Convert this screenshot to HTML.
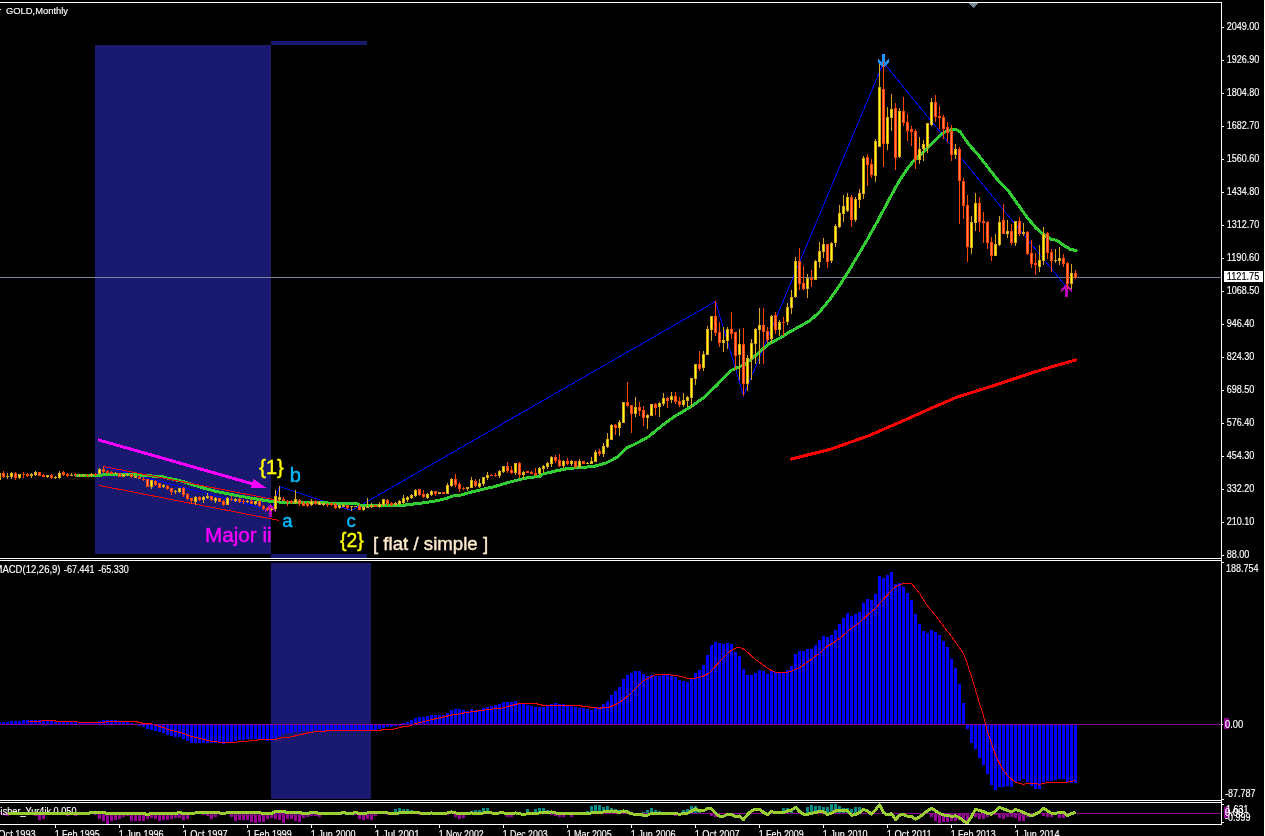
<!DOCTYPE html>
<html><head><meta charset="utf-8"><title>GOLD,Monthly</title>
<style>
html,body{margin:0;padding:0;background:#000;overflow:hidden}
svg{display:block}
svg text{font-family:"Liberation Sans",sans-serif;white-space:pre}
</style></head><body>
<svg width="1265" height="836" viewBox="0 0 1265 836" shape-rendering="crispEdges">
<rect x="0" y="0" width="1265" height="836" fill="#000"/>
<rect x="95" y="45" width="176" height="509" fill="#191970"/>
<rect x="271" y="41" width="96" height="4" fill="#191970"/>
<rect x="271" y="554" width="96" height="4" fill="#191970"/>
<rect x="271" y="563" width="100" height="236" fill="#191970"/>
<rect x="0" y="277" width="1221" height="1" fill="#778899"/>
<g id="main-ind">
<polyline points="103.5,466.5 271.5,510.5 279.5,486.5 351.5,510.5 715.5,301.5 743.5,395.5 883.5,62.5 1067.5,288.5" fill="none" stroke="#0000ff" stroke-width="1" />
<polyline points="76.0,475.5 101.0,475.5 103.0,474.5 138.0,474.5 141.0,475.5 151.0,475.5 153.0,476.5 162.0,476.5 165.0,477.5 182.4,481.3 199.8,487.0 217.2,491.7 234.6,495.2 252.0,498.3 265.0,500.4 273.7,501.9 320.0,502.9 357.0,503.4 359.0,505.0 405.5,505.0 411.0,504.3 423.0,502.9 431.0,501.7 437.9,500.6 446.5,498.3 453.7,495.7 461.6,494.9 469.5,492.5 477.4,490.6 485.3,488.6 493.2,487.0 501.1,484.6 509.1,482.3 517.0,480.3 524.9,478.3 530.6,477.3 539.5,476.6 543.0,474.0 556.0,470.9 568.5,468.4 581.0,467.5 594.0,466.5 606.5,462.8 616.6,457.6 626.7,448.0 631.8,445.6 638.4,442.4 648.1,437.0 654.6,431.7 665.3,423.0 676.1,415.5 682.2,412.0 691.5,406.3 704.0,397.3 716.4,385.6 728.8,372.4 732.0,370.0 744.4,364.6 752.2,358.4 760.0,351.4 769.3,343.6 780.0,338.0 789.7,331.9 809.5,321.0 819.3,312.2 829.2,300.3 839.0,286.5 845.0,276.7 848.9,270.7 858.8,254.0 868.6,237.2 878.5,219.5 889.6,198.5 899.1,181.2 908.7,166.9 913.5,161.1 918.3,156.8 927.8,147.8 937.4,138.2 942.2,133.4 947.0,131.0 951.8,129.6 955.6,129.1 960.3,132.0 968.2,143.7 978.0,154.6 988.0,167.5 997.8,180.0 1007.4,189.7 1016.9,203.0 1026.5,216.5 1036.0,228.0 1043.7,234.7 1051.4,239.4 1057.0,240.4 1064.7,246.0 1070.5,249.4 1076.2,250.5" fill="none" stroke="#32cd32" stroke-width="2.2" shape-rendering="geometricPrecision" stroke-linejoin="round" stroke-linecap="round"/>
<polyline points="76.0,475.5 101.0,475.5 103.0,474.5 138.0,474.5 141.0,475.5 151.0,475.5 153.0,476.5 162.0,476.5 165.0,477.5 182.4,481.3 199.8,487.0 217.2,491.7 234.6,495.2 252.0,498.3 265.0,500.4 273.7,501.9 320.0,502.9 357.0,503.4 359.0,505.0 405.5,505.0 411.0,504.3 423.0,502.9 431.0,501.7 437.9,500.6 446.5,498.3 453.7,495.7 461.6,494.9 469.5,492.5 477.4,490.6 485.3,488.6 493.2,487.0 501.1,484.6 509.1,482.3 517.0,480.3 524.9,478.3 530.6,477.3 539.5,476.6 543.0,474.0 556.0,470.9 568.5,468.4 581.0,467.5 594.0,466.5 606.5,462.8 616.6,457.6 626.7,448.0 631.8,445.6 638.4,442.4 648.1,437.0 654.6,431.7 665.3,423.0 676.1,415.5 682.2,412.0 691.5,406.3 704.0,397.3 716.4,385.6 728.8,372.4 732.0,370.0 744.4,364.6 752.2,358.4 760.0,351.4 769.3,343.6 780.0,338.0 789.7,331.9 809.5,321.0 819.3,312.2 829.2,300.3 839.0,286.5 845.0,276.7 848.9,270.7 858.8,254.0 868.6,237.2 878.5,219.5 889.6,198.5 899.1,181.2 908.7,166.9 913.5,161.1 918.3,156.8 927.8,147.8 937.4,138.2 942.2,133.4 947.0,131.0 951.8,129.6 955.6,129.1 960.3,132.0 968.2,143.7 978.0,154.6 988.0,167.5 997.8,180.0 1007.4,189.7 1016.9,203.0 1026.5,216.5 1036.0,228.0 1043.7,234.7 1051.4,239.4 1057.0,240.4 1064.7,246.0 1070.5,249.4 1076.2,250.5" fill="none" stroke="#32cd32" stroke-width="3" stroke-linejoin="round" stroke-linecap="round"/>
<polyline points="791.6,459.0 830.6,449.2 868.5,435.8 906.5,419.3 931.8,407.9 957.0,397.1 995.0,385.2 1033.0,372.5 1058.3,364.9 1075.5,360.0" fill="none" stroke="#ff0000" stroke-width="2.2" shape-rendering="geometricPrecision" stroke-linejoin="round" stroke-linecap="round"/>
<polyline points="791.6,459.0 830.6,449.2 868.5,435.8 906.5,419.3 931.8,407.9 957.0,397.1 995.0,385.2 1033.0,372.5 1058.3,364.9 1075.5,360.0" fill="none" stroke="#ff0000" stroke-width="3" stroke-linejoin="round" stroke-linecap="round"/>
</g>
<g id="objs">
<polyline points="103.5,466.5 279.5,500.6" fill="none" stroke="#ff0000" stroke-width="1" />
<polyline points="99.5,485.5 279.5,520.5" fill="none" stroke="#ff0000" stroke-width="1" />
<line x1="98" y1="439.8" x2="253" y2="484" stroke="#ff00ff" stroke-width="3"/>
<polygon points="266.5,488 253.5,479 250.8,488.2" fill="#ff00ff"/>
<rect x="882" y="54" width="3" height="9" fill="#1e90ff"/>
<rect x="878" y="59" width="1" height="1" fill="#1e90ff"/>
<rect x="888" y="59" width="1" height="1" fill="#1e90ff"/>
<rect x="878" y="60" width="2" height="1" fill="#1e90ff"/>
<rect x="887" y="60" width="2" height="1" fill="#1e90ff"/>
<rect x="878" y="61" width="3" height="1" fill="#1e90ff"/>
<rect x="886" y="61" width="3" height="1" fill="#1e90ff"/>
<rect x="878" y="62" width="11" height="1" fill="#1e90ff"/>
<rect x="879" y="63" width="9" height="1" fill="#1e90ff"/>
<rect x="880" y="64" width="7" height="1" fill="#1e90ff"/>
<rect x="881" y="65" width="5" height="1" fill="#1e90ff"/>
<rect x="882" y="66" width="3" height="1" fill="#1e90ff"/>
<rect x="883" y="67" width="1" height="1" fill="#1e90ff"/>
<rect x="1066" y="284" width="1" height="1" fill="#b800b8"/>
<rect x="1065" y="285" width="3" height="1" fill="#b800b8"/>
<rect x="1064" y="286" width="5" height="1" fill="#b800b8"/>
<rect x="1063" y="287" width="7" height="1" fill="#b800b8"/>
<rect x="1062" y="288" width="9" height="1" fill="#b800b8"/>
<rect x="1061" y="289" width="3" height="1" fill="#b800b8"/>
<rect x="1069" y="289" width="3" height="1" fill="#b800b8"/>
<rect x="1061" y="290" width="2" height="1" fill="#b800b8"/>
<rect x="1070" y="290" width="2" height="1" fill="#b800b8"/>
<rect x="1061" y="291" width="1" height="1" fill="#b800b8"/>
<rect x="1071" y="291" width="1" height="1" fill="#b800b8"/>
<rect x="1065" y="288" width="3" height="9" fill="#b800b8"/>
<rect x="270" y="504" width="1" height="1" fill="#b800b8"/>
<rect x="269" y="505" width="3" height="1" fill="#b800b8"/>
<rect x="268" y="506" width="5" height="1" fill="#b800b8"/>
<rect x="267" y="507" width="7" height="1" fill="#b800b8"/>
<rect x="266" y="508" width="9" height="1" fill="#b800b8"/>
<rect x="265" y="509" width="3" height="1" fill="#b800b8"/>
<rect x="273" y="509" width="3" height="1" fill="#b800b8"/>
<rect x="265" y="510" width="2" height="1" fill="#b800b8"/>
<rect x="274" y="510" width="2" height="1" fill="#b800b8"/>
<rect x="265" y="511" width="1" height="1" fill="#b800b8"/>
<rect x="275" y="511" width="1" height="1" fill="#b800b8"/>
<rect x="269" y="508" width="3" height="9" fill="#b800b8"/>
</g>
<g id="candles">
<rect x="-1" y="473" width="1" height="7" fill="#daa520"/>
<rect x="-2" y="473" width="3" height="7" fill="#daa520"/>
<rect x="-1" y="474" width="1" height="5" fill="#ffff00"/>
<rect x="3" y="471" width="1" height="7" fill="#ff4500"/>
<rect x="2" y="473" width="3" height="4" fill="#ff4500"/>
<rect x="3" y="474" width="1" height="2" fill="#ff7f50"/>
<rect x="7" y="473" width="1" height="6" fill="#daa520"/>
<rect x="6" y="476" width="3" height="1" fill="#daa520"/>
<rect x="11" y="472" width="1" height="7" fill="#daa520"/>
<rect x="10" y="473" width="3" height="4" fill="#daa520"/>
<rect x="11" y="474" width="1" height="2" fill="#ffff00"/>
<rect x="15" y="472" width="1" height="8" fill="#ff4500"/>
<rect x="14" y="473" width="3" height="5" fill="#ff4500"/>
<rect x="15" y="474" width="1" height="3" fill="#ff7f50"/>
<rect x="19" y="474" width="1" height="5" fill="#daa520"/>
<rect x="18" y="474" width="3" height="4" fill="#daa520"/>
<rect x="19" y="475" width="1" height="2" fill="#ffff00"/>
<rect x="23" y="472" width="1" height="6" fill="#ff4500"/>
<rect x="22" y="474" width="3" height="1" fill="#ff4500"/>
<rect x="27" y="473" width="1" height="4" fill="#ff4500"/>
<rect x="26" y="474" width="3" height="2" fill="#ff4500"/>
<rect x="31" y="473" width="1" height="5" fill="#daa520"/>
<rect x="30" y="474" width="3" height="2" fill="#daa520"/>
<rect x="35" y="471" width="1" height="5" fill="#daa520"/>
<rect x="34" y="472" width="3" height="3" fill="#daa520"/>
<rect x="35" y="473" width="1" height="1" fill="#ffff00"/>
<rect x="39" y="472" width="1" height="4" fill="#ff4500"/>
<rect x="38" y="472" width="3" height="4" fill="#ff4500"/>
<rect x="39" y="473" width="1" height="2" fill="#ff7f50"/>
<rect x="43" y="474" width="1" height="3" fill="#ff4500"/>
<rect x="42" y="475" width="3" height="2" fill="#ff4500"/>
<rect x="47" y="475" width="1" height="3" fill="#daa520"/>
<rect x="46" y="475" width="3" height="2" fill="#daa520"/>
<rect x="51" y="474" width="1" height="5" fill="#ff4500"/>
<rect x="50" y="475" width="3" height="3" fill="#ff4500"/>
<rect x="51" y="476" width="1" height="1" fill="#ff7f50"/>
<rect x="55" y="476" width="1" height="3" fill="#daa520"/>
<rect x="54" y="477" width="3" height="1" fill="#daa520"/>
<rect x="59" y="471" width="1" height="8" fill="#daa520"/>
<rect x="58" y="473" width="3" height="5" fill="#daa520"/>
<rect x="59" y="474" width="1" height="3" fill="#ffff00"/>
<rect x="63" y="471" width="1" height="5" fill="#ff4500"/>
<rect x="62" y="472" width="3" height="3" fill="#ff4500"/>
<rect x="63" y="473" width="1" height="1" fill="#ff7f50"/>
<rect x="67" y="473" width="1" height="4" fill="#ff4500"/>
<rect x="66" y="474" width="3" height="2" fill="#ff4500"/>
<rect x="71" y="473" width="1" height="3" fill="#daa520"/>
<rect x="70" y="475" width="3" height="1" fill="#daa520"/>
<rect x="75" y="473" width="1" height="4" fill="#ff4500"/>
<rect x="74" y="474" width="3" height="1" fill="#ff4500"/>
<rect x="79" y="474" width="1" height="3" fill="#daa520"/>
<rect x="78" y="475" width="3" height="1" fill="#daa520"/>
<rect x="83" y="474" width="1" height="3" fill="#daa520"/>
<rect x="82" y="475" width="3" height="1" fill="#daa520"/>
<rect x="87" y="474" width="1" height="3" fill="#ff4500"/>
<rect x="86" y="475" width="3" height="1" fill="#ff4500"/>
<rect x="91" y="473" width="1" height="4" fill="#daa520"/>
<rect x="90" y="474" width="3" height="2" fill="#daa520"/>
<rect x="95" y="473" width="1" height="3" fill="#ff4500"/>
<rect x="94" y="474" width="3" height="1" fill="#ff4500"/>
<rect x="99" y="468" width="1" height="7" fill="#daa520"/>
<rect x="98" y="469" width="3" height="5" fill="#daa520"/>
<rect x="99" y="470" width="1" height="3" fill="#ffff00"/>
<rect x="103" y="466" width="1" height="7" fill="#ff4500"/>
<rect x="102" y="469" width="3" height="3" fill="#ff4500"/>
<rect x="103" y="470" width="1" height="1" fill="#ff7f50"/>
<rect x="107" y="470" width="1" height="4" fill="#ff4500"/>
<rect x="106" y="471" width="3" height="2" fill="#ff4500"/>
<rect x="111" y="471" width="1" height="3" fill="#ff4500"/>
<rect x="110" y="472" width="3" height="2" fill="#ff4500"/>
<rect x="115" y="472" width="1" height="2" fill="#daa520"/>
<rect x="114" y="473" width="3" height="1" fill="#daa520"/>
<rect x="119" y="473" width="1" height="4" fill="#ff4500"/>
<rect x="118" y="473" width="3" height="4" fill="#ff4500"/>
<rect x="119" y="474" width="1" height="2" fill="#ff7f50"/>
<rect x="123" y="474" width="1" height="3" fill="#daa520"/>
<rect x="122" y="474" width="3" height="3" fill="#daa520"/>
<rect x="123" y="475" width="1" height="1" fill="#ffff00"/>
<rect x="127" y="473" width="1" height="3" fill="#daa520"/>
<rect x="126" y="474" width="3" height="1" fill="#daa520"/>
<rect x="131" y="474" width="1" height="4" fill="#ff4500"/>
<rect x="130" y="474" width="3" height="3" fill="#ff4500"/>
<rect x="131" y="475" width="1" height="1" fill="#ff7f50"/>
<rect x="135" y="475" width="1" height="3" fill="#daa520"/>
<rect x="134" y="476" width="3" height="2" fill="#daa520"/>
<rect x="139" y="475" width="1" height="4" fill="#ff4500"/>
<rect x="138" y="477" width="3" height="2" fill="#ff4500"/>
<rect x="143" y="477" width="1" height="4" fill="#ff4500"/>
<rect x="142" y="479" width="3" height="1" fill="#ff4500"/>
<rect x="147" y="479" width="1" height="8" fill="#ff4500"/>
<rect x="146" y="479" width="3" height="8" fill="#ff4500"/>
<rect x="147" y="480" width="1" height="6" fill="#ff7f50"/>
<rect x="151" y="480" width="1" height="9" fill="#daa520"/>
<rect x="150" y="480" width="3" height="7" fill="#daa520"/>
<rect x="151" y="481" width="1" height="5" fill="#ffff00"/>
<rect x="155" y="480" width="1" height="6" fill="#ff4500"/>
<rect x="154" y="481" width="3" height="4" fill="#ff4500"/>
<rect x="155" y="482" width="1" height="2" fill="#ff7f50"/>
<rect x="159" y="483" width="1" height="5" fill="#ff4500"/>
<rect x="158" y="483" width="3" height="5" fill="#ff4500"/>
<rect x="159" y="484" width="1" height="3" fill="#ff7f50"/>
<rect x="163" y="484" width="1" height="4" fill="#daa520"/>
<rect x="162" y="485" width="3" height="2" fill="#daa520"/>
<rect x="167" y="485" width="1" height="5" fill="#ff4500"/>
<rect x="166" y="486" width="3" height="3" fill="#ff4500"/>
<rect x="167" y="487" width="1" height="1" fill="#ff7f50"/>
<rect x="171" y="488" width="1" height="7" fill="#ff4500"/>
<rect x="170" y="488" width="3" height="4" fill="#ff4500"/>
<rect x="171" y="489" width="1" height="2" fill="#ff7f50"/>
<rect x="175" y="490" width="1" height="4" fill="#daa520"/>
<rect x="174" y="491" width="3" height="1" fill="#daa520"/>
<rect x="179" y="488" width="1" height="5" fill="#daa520"/>
<rect x="178" y="488" width="3" height="4" fill="#daa520"/>
<rect x="179" y="489" width="1" height="2" fill="#ffff00"/>
<rect x="183" y="487" width="1" height="10" fill="#ff4500"/>
<rect x="182" y="488" width="3" height="7" fill="#ff4500"/>
<rect x="183" y="489" width="1" height="5" fill="#ff7f50"/>
<rect x="187" y="493" width="1" height="7" fill="#ff4500"/>
<rect x="186" y="494" width="3" height="5" fill="#ff4500"/>
<rect x="187" y="495" width="1" height="3" fill="#ff7f50"/>
<rect x="191" y="498" width="1" height="6" fill="#ff4500"/>
<rect x="190" y="498" width="3" height="3" fill="#ff4500"/>
<rect x="191" y="499" width="1" height="1" fill="#ff7f50"/>
<rect x="195" y="496" width="1" height="9" fill="#daa520"/>
<rect x="194" y="497" width="3" height="5" fill="#daa520"/>
<rect x="195" y="498" width="1" height="3" fill="#ffff00"/>
<rect x="199" y="496" width="1" height="5" fill="#ff4500"/>
<rect x="198" y="497" width="3" height="3" fill="#ff4500"/>
<rect x="199" y="498" width="1" height="1" fill="#ff7f50"/>
<rect x="203" y="496" width="1" height="7" fill="#daa520"/>
<rect x="202" y="497" width="3" height="3" fill="#daa520"/>
<rect x="203" y="498" width="1" height="1" fill="#ffff00"/>
<rect x="207" y="493" width="1" height="6" fill="#daa520"/>
<rect x="206" y="496" width="3" height="2" fill="#daa520"/>
<rect x="211" y="496" width="1" height="5" fill="#ff4500"/>
<rect x="210" y="496" width="3" height="4" fill="#ff4500"/>
<rect x="211" y="497" width="1" height="2" fill="#ff7f50"/>
<rect x="215" y="497" width="1" height="6" fill="#daa520"/>
<rect x="214" y="498" width="3" height="3" fill="#daa520"/>
<rect x="215" y="499" width="1" height="1" fill="#ffff00"/>
<rect x="219" y="498" width="1" height="4" fill="#ff4500"/>
<rect x="218" y="498" width="3" height="4" fill="#ff4500"/>
<rect x="219" y="499" width="1" height="2" fill="#ff7f50"/>
<rect x="223" y="500" width="1" height="6" fill="#ff4500"/>
<rect x="222" y="501" width="3" height="4" fill="#ff4500"/>
<rect x="223" y="502" width="1" height="2" fill="#ff7f50"/>
<rect x="227" y="497" width="1" height="8" fill="#daa520"/>
<rect x="226" y="498" width="3" height="7" fill="#daa520"/>
<rect x="227" y="499" width="1" height="5" fill="#ffff00"/>
<rect x="231" y="496" width="1" height="5" fill="#ff4500"/>
<rect x="230" y="499" width="3" height="1" fill="#ff4500"/>
<rect x="235" y="498" width="1" height="4" fill="#daa520"/>
<rect x="234" y="499" width="3" height="2" fill="#daa520"/>
<rect x="239" y="498" width="1" height="5" fill="#ff4500"/>
<rect x="238" y="499" width="3" height="3" fill="#ff4500"/>
<rect x="239" y="500" width="1" height="1" fill="#ff7f50"/>
<rect x="243" y="499" width="1" height="5" fill="#ff4500"/>
<rect x="242" y="501" width="3" height="1" fill="#ff4500"/>
<rect x="247" y="500" width="1" height="3" fill="#daa520"/>
<rect x="246" y="501" width="3" height="1" fill="#daa520"/>
<rect x="251" y="499" width="1" height="5" fill="#ff4500"/>
<rect x="250" y="501" width="3" height="3" fill="#ff4500"/>
<rect x="251" y="502" width="1" height="1" fill="#ff7f50"/>
<rect x="255" y="501" width="1" height="4" fill="#daa520"/>
<rect x="254" y="501" width="3" height="3" fill="#daa520"/>
<rect x="255" y="502" width="1" height="1" fill="#ffff00"/>
<rect x="259" y="500" width="1" height="7" fill="#ff4500"/>
<rect x="258" y="501" width="3" height="5" fill="#ff4500"/>
<rect x="259" y="502" width="1" height="3" fill="#ff7f50"/>
<rect x="263" y="505" width="1" height="5" fill="#ff4500"/>
<rect x="262" y="506" width="3" height="3" fill="#ff4500"/>
<rect x="263" y="507" width="1" height="1" fill="#ff7f50"/>
<rect x="267" y="507" width="1" height="4" fill="#ff4500"/>
<rect x="266" y="508" width="3" height="2" fill="#ff4500"/>
<rect x="271" y="508" width="1" height="3" fill="#daa520"/>
<rect x="270" y="509" width="3" height="1" fill="#daa520"/>
<rect x="275" y="490" width="1" height="21" fill="#daa520"/>
<rect x="274" y="496" width="3" height="13" fill="#daa520"/>
<rect x="275" y="497" width="1" height="11" fill="#ffff00"/>
<rect x="279" y="486" width="1" height="16" fill="#daa520"/>
<rect x="278" y="497" width="3" height="3" fill="#daa520"/>
<rect x="279" y="498" width="1" height="1" fill="#ffff00"/>
<rect x="283" y="497" width="1" height="4" fill="#ff4500"/>
<rect x="282" y="499" width="3" height="2" fill="#ff4500"/>
<rect x="287" y="500" width="1" height="6" fill="#ff4500"/>
<rect x="286" y="501" width="3" height="1" fill="#ff4500"/>
<rect x="291" y="500" width="1" height="4" fill="#ff4500"/>
<rect x="290" y="501" width="3" height="2" fill="#ff4500"/>
<rect x="295" y="490" width="1" height="14" fill="#daa520"/>
<rect x="294" y="499" width="3" height="4" fill="#daa520"/>
<rect x="295" y="500" width="1" height="2" fill="#ffff00"/>
<rect x="299" y="499" width="1" height="7" fill="#ff4500"/>
<rect x="298" y="500" width="3" height="4" fill="#ff4500"/>
<rect x="299" y="501" width="1" height="2" fill="#ff7f50"/>
<rect x="303" y="501" width="1" height="5" fill="#ff4500"/>
<rect x="302" y="503" width="3" height="3" fill="#ff4500"/>
<rect x="303" y="504" width="1" height="1" fill="#ff7f50"/>
<rect x="307" y="502" width="1" height="5" fill="#ff4500"/>
<rect x="306" y="503" width="3" height="3" fill="#ff4500"/>
<rect x="307" y="504" width="1" height="1" fill="#ff7f50"/>
<rect x="311" y="499" width="1" height="7" fill="#daa520"/>
<rect x="310" y="501" width="3" height="4" fill="#daa520"/>
<rect x="311" y="502" width="1" height="2" fill="#ffff00"/>
<rect x="315" y="500" width="1" height="5" fill="#ff4500"/>
<rect x="314" y="501" width="3" height="3" fill="#ff4500"/>
<rect x="315" y="502" width="1" height="1" fill="#ff7f50"/>
<rect x="319" y="501" width="1" height="4" fill="#daa520"/>
<rect x="318" y="502" width="3" height="3" fill="#daa520"/>
<rect x="319" y="503" width="1" height="1" fill="#ffff00"/>
<rect x="323" y="503" width="1" height="3" fill="#daa520"/>
<rect x="322" y="503" width="3" height="2" fill="#daa520"/>
<rect x="327" y="503" width="1" height="4" fill="#ff4500"/>
<rect x="326" y="504" width="3" height="1" fill="#ff4500"/>
<rect x="331" y="503" width="1" height="3" fill="#ff4500"/>
<rect x="330" y="503" width="3" height="2" fill="#ff4500"/>
<rect x="335" y="503" width="1" height="6" fill="#ff4500"/>
<rect x="334" y="504" width="3" height="4" fill="#ff4500"/>
<rect x="335" y="505" width="1" height="2" fill="#ff7f50"/>
<rect x="339" y="505" width="1" height="4" fill="#daa520"/>
<rect x="338" y="505" width="3" height="3" fill="#daa520"/>
<rect x="339" y="506" width="1" height="1" fill="#ffff00"/>
<rect x="343" y="504" width="1" height="3" fill="#daa520"/>
<rect x="342" y="505" width="3" height="2" fill="#daa520"/>
<rect x="347" y="505" width="1" height="4" fill="#ff4500"/>
<rect x="346" y="505" width="3" height="3" fill="#ff4500"/>
<rect x="347" y="506" width="1" height="1" fill="#ff7f50"/>
<rect x="351" y="506" width="1" height="5" fill="#daa520"/>
<rect x="350" y="506" width="3" height="1" fill="#daa520"/>
<rect x="355" y="506" width="1" height="1" fill="#daa520"/>
<rect x="354" y="506" width="3" height="1" fill="#daa520"/>
<rect x="359" y="504" width="1" height="6" fill="#ff4500"/>
<rect x="358" y="506" width="3" height="4" fill="#ff4500"/>
<rect x="359" y="507" width="1" height="2" fill="#ff7f50"/>
<rect x="363" y="506" width="1" height="5" fill="#daa520"/>
<rect x="362" y="507" width="3" height="3" fill="#daa520"/>
<rect x="363" y="508" width="1" height="1" fill="#ffff00"/>
<rect x="367" y="498" width="1" height="10" fill="#daa520"/>
<rect x="366" y="507" width="3" height="1" fill="#daa520"/>
<rect x="371" y="503" width="1" height="5" fill="#daa520"/>
<rect x="370" y="505" width="3" height="2" fill="#daa520"/>
<rect x="375" y="505" width="1" height="2" fill="#ff4500"/>
<rect x="374" y="505" width="3" height="2" fill="#ff4500"/>
<rect x="379" y="502" width="1" height="6" fill="#daa520"/>
<rect x="378" y="504" width="3" height="3" fill="#daa520"/>
<rect x="379" y="505" width="1" height="1" fill="#ffff00"/>
<rect x="383" y="499" width="1" height="7" fill="#daa520"/>
<rect x="382" y="499" width="3" height="6" fill="#daa520"/>
<rect x="383" y="500" width="1" height="4" fill="#ffff00"/>
<rect x="387" y="499" width="1" height="7" fill="#ff4500"/>
<rect x="386" y="500" width="3" height="4" fill="#ff4500"/>
<rect x="387" y="501" width="1" height="2" fill="#ff7f50"/>
<rect x="391" y="502" width="1" height="4" fill="#ff4500"/>
<rect x="390" y="503" width="3" height="2" fill="#ff4500"/>
<rect x="395" y="502" width="1" height="4" fill="#daa520"/>
<rect x="394" y="503" width="3" height="2" fill="#daa520"/>
<rect x="399" y="500" width="1" height="5" fill="#daa520"/>
<rect x="398" y="501" width="3" height="3" fill="#daa520"/>
<rect x="399" y="502" width="1" height="1" fill="#ffff00"/>
<rect x="403" y="495" width="1" height="9" fill="#daa520"/>
<rect x="402" y="498" width="3" height="5" fill="#daa520"/>
<rect x="403" y="499" width="1" height="3" fill="#ffff00"/>
<rect x="407" y="496" width="1" height="6" fill="#daa520"/>
<rect x="406" y="497" width="3" height="3" fill="#daa520"/>
<rect x="407" y="498" width="1" height="1" fill="#ffff00"/>
<rect x="411" y="494" width="1" height="5" fill="#daa520"/>
<rect x="410" y="495" width="3" height="3" fill="#daa520"/>
<rect x="411" y="496" width="1" height="1" fill="#ffff00"/>
<rect x="415" y="489" width="1" height="8" fill="#daa520"/>
<rect x="414" y="490" width="3" height="6" fill="#daa520"/>
<rect x="415" y="491" width="1" height="4" fill="#ffff00"/>
<rect x="419" y="489" width="1" height="7" fill="#ff4500"/>
<rect x="418" y="489" width="3" height="6" fill="#ff4500"/>
<rect x="419" y="490" width="1" height="4" fill="#ff7f50"/>
<rect x="423" y="490" width="1" height="8" fill="#ff4500"/>
<rect x="422" y="494" width="3" height="3" fill="#ff4500"/>
<rect x="423" y="495" width="1" height="1" fill="#ff7f50"/>
<rect x="427" y="493" width="1" height="6" fill="#daa520"/>
<rect x="426" y="494" width="3" height="4" fill="#daa520"/>
<rect x="427" y="495" width="1" height="2" fill="#ffff00"/>
<rect x="431" y="490" width="1" height="6" fill="#daa520"/>
<rect x="430" y="491" width="3" height="4" fill="#daa520"/>
<rect x="431" y="492" width="1" height="2" fill="#ffff00"/>
<rect x="435" y="491" width="1" height="5" fill="#ff4500"/>
<rect x="434" y="491" width="3" height="3" fill="#ff4500"/>
<rect x="435" y="492" width="1" height="1" fill="#ff7f50"/>
<rect x="439" y="492" width="1" height="2" fill="#daa520"/>
<rect x="438" y="492" width="3" height="2" fill="#daa520"/>
<rect x="443" y="492" width="1" height="2" fill="#ff4500"/>
<rect x="442" y="492" width="3" height="2" fill="#ff4500"/>
<rect x="447" y="483" width="1" height="11" fill="#daa520"/>
<rect x="446" y="485" width="3" height="9" fill="#daa520"/>
<rect x="447" y="486" width="1" height="7" fill="#ffff00"/>
<rect x="451" y="478" width="1" height="9" fill="#daa520"/>
<rect x="450" y="479" width="3" height="7" fill="#daa520"/>
<rect x="451" y="480" width="1" height="5" fill="#ffff00"/>
<rect x="455" y="474" width="1" height="13" fill="#ff4500"/>
<rect x="454" y="479" width="3" height="6" fill="#ff4500"/>
<rect x="455" y="480" width="1" height="4" fill="#ff7f50"/>
<rect x="459" y="482" width="1" height="10" fill="#ff4500"/>
<rect x="458" y="484" width="3" height="5" fill="#ff4500"/>
<rect x="459" y="485" width="1" height="3" fill="#ff7f50"/>
<rect x="463" y="487" width="1" height="3" fill="#ff4500"/>
<rect x="462" y="488" width="3" height="1" fill="#ff4500"/>
<rect x="467" y="487" width="1" height="4" fill="#daa520"/>
<rect x="466" y="487" width="3" height="2" fill="#daa520"/>
<rect x="471" y="477" width="1" height="11" fill="#daa520"/>
<rect x="470" y="480" width="3" height="8" fill="#daa520"/>
<rect x="471" y="481" width="1" height="6" fill="#ffff00"/>
<rect x="475" y="479" width="1" height="8" fill="#ff4500"/>
<rect x="474" y="481" width="3" height="5" fill="#ff4500"/>
<rect x="475" y="482" width="1" height="3" fill="#ff7f50"/>
<rect x="479" y="479" width="1" height="9" fill="#daa520"/>
<rect x="478" y="483" width="3" height="4" fill="#daa520"/>
<rect x="479" y="484" width="1" height="2" fill="#ffff00"/>
<rect x="483" y="477" width="1" height="9" fill="#daa520"/>
<rect x="482" y="477" width="3" height="7" fill="#daa520"/>
<rect x="483" y="478" width="1" height="5" fill="#ffff00"/>
<rect x="487" y="472" width="1" height="8" fill="#daa520"/>
<rect x="486" y="475" width="3" height="3" fill="#daa520"/>
<rect x="487" y="476" width="1" height="1" fill="#ffff00"/>
<rect x="491" y="474" width="1" height="2" fill="#ff4500"/>
<rect x="490" y="475" width="3" height="1" fill="#ff4500"/>
<rect x="495" y="473" width="1" height="4" fill="#ff4500"/>
<rect x="494" y="475" width="3" height="1" fill="#ff4500"/>
<rect x="499" y="470" width="1" height="8" fill="#daa520"/>
<rect x="498" y="471" width="3" height="5" fill="#daa520"/>
<rect x="499" y="472" width="1" height="3" fill="#ffff00"/>
<rect x="503" y="466" width="1" height="7" fill="#daa520"/>
<rect x="502" y="466" width="3" height="6" fill="#daa520"/>
<rect x="503" y="467" width="1" height="4" fill="#ffff00"/>
<rect x="507" y="462" width="1" height="11" fill="#ff4500"/>
<rect x="506" y="466" width="3" height="5" fill="#ff4500"/>
<rect x="507" y="467" width="1" height="3" fill="#ff7f50"/>
<rect x="511" y="466" width="1" height="8" fill="#ff4500"/>
<rect x="510" y="470" width="3" height="3" fill="#ff4500"/>
<rect x="511" y="471" width="1" height="1" fill="#ff7f50"/>
<rect x="515" y="463" width="1" height="12" fill="#daa520"/>
<rect x="514" y="463" width="3" height="10" fill="#daa520"/>
<rect x="515" y="464" width="1" height="8" fill="#ffff00"/>
<rect x="519" y="462" width="1" height="16" fill="#ff4500"/>
<rect x="518" y="463" width="3" height="12" fill="#ff4500"/>
<rect x="519" y="464" width="1" height="10" fill="#ff7f50"/>
<rect x="523" y="471" width="1" height="8" fill="#daa520"/>
<rect x="522" y="472" width="3" height="3" fill="#daa520"/>
<rect x="523" y="473" width="1" height="1" fill="#ffff00"/>
<rect x="527" y="471" width="1" height="2" fill="#ff4500"/>
<rect x="526" y="471" width="3" height="2" fill="#ff4500"/>
<rect x="531" y="471" width="1" height="3" fill="#ff4500"/>
<rect x="530" y="472" width="3" height="2" fill="#ff4500"/>
<rect x="535" y="468" width="1" height="8" fill="#ff4500"/>
<rect x="534" y="473" width="3" height="2" fill="#ff4500"/>
<rect x="539" y="467" width="1" height="8" fill="#daa520"/>
<rect x="538" y="468" width="3" height="6" fill="#daa520"/>
<rect x="539" y="469" width="1" height="4" fill="#ffff00"/>
<rect x="543" y="465" width="1" height="8" fill="#daa520"/>
<rect x="542" y="466" width="3" height="3" fill="#daa520"/>
<rect x="543" y="467" width="1" height="1" fill="#ffff00"/>
<rect x="547" y="462" width="1" height="7" fill="#daa520"/>
<rect x="546" y="463" width="3" height="4" fill="#daa520"/>
<rect x="547" y="464" width="1" height="2" fill="#ffff00"/>
<rect x="551" y="456" width="1" height="11" fill="#daa520"/>
<rect x="550" y="457" width="3" height="7" fill="#daa520"/>
<rect x="551" y="458" width="1" height="5" fill="#ffff00"/>
<rect x="555" y="455" width="1" height="8" fill="#ff4500"/>
<rect x="554" y="457" width="3" height="4" fill="#ff4500"/>
<rect x="555" y="458" width="1" height="2" fill="#ff7f50"/>
<rect x="559" y="454" width="1" height="13" fill="#ff4500"/>
<rect x="558" y="460" width="3" height="6" fill="#ff4500"/>
<rect x="559" y="461" width="1" height="4" fill="#ff7f50"/>
<rect x="563" y="460" width="1" height="9" fill="#daa520"/>
<rect x="562" y="461" width="3" height="5" fill="#daa520"/>
<rect x="563" y="462" width="1" height="3" fill="#ffff00"/>
<rect x="567" y="458" width="1" height="7" fill="#ff4500"/>
<rect x="566" y="461" width="3" height="3" fill="#ff4500"/>
<rect x="567" y="462" width="1" height="1" fill="#ff7f50"/>
<rect x="571" y="460" width="1" height="6" fill="#daa520"/>
<rect x="570" y="461" width="3" height="3" fill="#daa520"/>
<rect x="571" y="462" width="1" height="1" fill="#ffff00"/>
<rect x="575" y="461" width="1" height="7" fill="#ff4500"/>
<rect x="574" y="461" width="3" height="6" fill="#ff4500"/>
<rect x="575" y="462" width="1" height="4" fill="#ff7f50"/>
<rect x="579" y="459" width="1" height="9" fill="#daa520"/>
<rect x="578" y="461" width="3" height="6" fill="#daa520"/>
<rect x="579" y="462" width="1" height="4" fill="#ffff00"/>
<rect x="583" y="461" width="1" height="3" fill="#ff4500"/>
<rect x="582" y="461" width="3" height="3" fill="#ff4500"/>
<rect x="583" y="462" width="1" height="1" fill="#ff7f50"/>
<rect x="587" y="462" width="1" height="2" fill="#daa520"/>
<rect x="586" y="463" width="3" height="1" fill="#daa520"/>
<rect x="591" y="457" width="1" height="7" fill="#daa520"/>
<rect x="590" y="461" width="3" height="3" fill="#daa520"/>
<rect x="591" y="462" width="1" height="1" fill="#ffff00"/>
<rect x="595" y="450" width="1" height="12" fill="#daa520"/>
<rect x="594" y="452" width="3" height="10" fill="#daa520"/>
<rect x="595" y="453" width="1" height="8" fill="#ffff00"/>
<rect x="599" y="449" width="1" height="7" fill="#ff4500"/>
<rect x="598" y="451" width="3" height="3" fill="#ff4500"/>
<rect x="599" y="452" width="1" height="1" fill="#ff7f50"/>
<rect x="603" y="443" width="1" height="14" fill="#daa520"/>
<rect x="602" y="446" width="3" height="8" fill="#daa520"/>
<rect x="603" y="447" width="1" height="6" fill="#ffff00"/>
<rect x="607" y="433" width="1" height="15" fill="#daa520"/>
<rect x="606" y="439" width="3" height="8" fill="#daa520"/>
<rect x="607" y="440" width="1" height="6" fill="#ffff00"/>
<rect x="611" y="424" width="1" height="16" fill="#daa520"/>
<rect x="610" y="425" width="3" height="15" fill="#daa520"/>
<rect x="611" y="426" width="1" height="13" fill="#ffff00"/>
<rect x="615" y="424" width="1" height="11" fill="#ff4500"/>
<rect x="614" y="425" width="3" height="3" fill="#ff4500"/>
<rect x="615" y="426" width="1" height="1" fill="#ff7f50"/>
<rect x="619" y="420" width="1" height="16" fill="#daa520"/>
<rect x="618" y="422" width="3" height="6" fill="#daa520"/>
<rect x="619" y="423" width="1" height="4" fill="#ffff00"/>
<rect x="623" y="402" width="1" height="21" fill="#daa520"/>
<rect x="622" y="402" width="3" height="21" fill="#daa520"/>
<rect x="623" y="403" width="1" height="19" fill="#ffff00"/>
<rect x="627" y="382" width="1" height="25" fill="#ff4500"/>
<rect x="626" y="402" width="3" height="4" fill="#ff4500"/>
<rect x="627" y="403" width="1" height="2" fill="#ff7f50"/>
<rect x="631" y="405" width="1" height="28" fill="#ff4500"/>
<rect x="630" y="405" width="3" height="9" fill="#ff4500"/>
<rect x="631" y="406" width="1" height="7" fill="#ff7f50"/>
<rect x="635" y="397" width="1" height="20" fill="#daa520"/>
<rect x="634" y="407" width="3" height="7" fill="#daa520"/>
<rect x="635" y="408" width="1" height="5" fill="#ffff00"/>
<rect x="639" y="402" width="1" height="14" fill="#ff4500"/>
<rect x="638" y="407" width="3" height="4" fill="#ff4500"/>
<rect x="639" y="408" width="1" height="2" fill="#ff7f50"/>
<rect x="643" y="406" width="1" height="20" fill="#ff4500"/>
<rect x="642" y="410" width="3" height="8" fill="#ff4500"/>
<rect x="643" y="411" width="1" height="6" fill="#ff7f50"/>
<rect x="647" y="414" width="1" height="15" fill="#daa520"/>
<rect x="646" y="415" width="3" height="3" fill="#daa520"/>
<rect x="647" y="416" width="1" height="1" fill="#ffff00"/>
<rect x="651" y="404" width="1" height="12" fill="#daa520"/>
<rect x="650" y="404" width="3" height="12" fill="#daa520"/>
<rect x="651" y="405" width="1" height="10" fill="#ffff00"/>
<rect x="655" y="403" width="1" height="12" fill="#ff4500"/>
<rect x="654" y="404" width="3" height="4" fill="#ff4500"/>
<rect x="655" y="405" width="1" height="2" fill="#ff7f50"/>
<rect x="659" y="402" width="1" height="15" fill="#daa520"/>
<rect x="658" y="403" width="3" height="4" fill="#daa520"/>
<rect x="659" y="404" width="1" height="2" fill="#ffff00"/>
<rect x="663" y="393" width="1" height="13" fill="#daa520"/>
<rect x="662" y="398" width="3" height="6" fill="#daa520"/>
<rect x="663" y="399" width="1" height="4" fill="#ffff00"/>
<rect x="667" y="397" width="1" height="11" fill="#ff4500"/>
<rect x="666" y="398" width="3" height="3" fill="#ff4500"/>
<rect x="667" y="399" width="1" height="1" fill="#ff7f50"/>
<rect x="671" y="392" width="1" height="11" fill="#daa520"/>
<rect x="670" y="396" width="3" height="4" fill="#daa520"/>
<rect x="671" y="397" width="1" height="2" fill="#ffff00"/>
<rect x="675" y="392" width="1" height="12" fill="#ff4500"/>
<rect x="674" y="396" width="3" height="6" fill="#ff4500"/>
<rect x="675" y="397" width="1" height="4" fill="#ff7f50"/>
<rect x="679" y="397" width="1" height="10" fill="#ff4500"/>
<rect x="678" y="401" width="3" height="4" fill="#ff4500"/>
<rect x="679" y="402" width="1" height="2" fill="#ff7f50"/>
<rect x="683" y="393" width="1" height="14" fill="#daa520"/>
<rect x="682" y="400" width="3" height="5" fill="#daa520"/>
<rect x="683" y="401" width="1" height="3" fill="#ffff00"/>
<rect x="687" y="396" width="1" height="11" fill="#daa520"/>
<rect x="686" y="397" width="3" height="4" fill="#daa520"/>
<rect x="687" y="398" width="1" height="2" fill="#ffff00"/>
<rect x="691" y="378" width="1" height="29" fill="#daa520"/>
<rect x="690" y="378" width="3" height="20" fill="#daa520"/>
<rect x="691" y="379" width="1" height="18" fill="#ffff00"/>
<rect x="695" y="364" width="1" height="21" fill="#daa520"/>
<rect x="694" y="364" width="3" height="15" fill="#daa520"/>
<rect x="695" y="365" width="1" height="13" fill="#ffff00"/>
<rect x="699" y="351" width="1" height="20" fill="#ff4500"/>
<rect x="698" y="364" width="3" height="5" fill="#ff4500"/>
<rect x="699" y="365" width="1" height="3" fill="#ff7f50"/>
<rect x="703" y="351" width="1" height="20" fill="#daa520"/>
<rect x="702" y="354" width="3" height="14" fill="#daa520"/>
<rect x="703" y="355" width="1" height="12" fill="#ffff00"/>
<rect x="707" y="326" width="1" height="29" fill="#daa520"/>
<rect x="706" y="329" width="3" height="26" fill="#daa520"/>
<rect x="707" y="330" width="1" height="24" fill="#ffff00"/>
<rect x="711" y="316" width="1" height="25" fill="#daa520"/>
<rect x="710" y="316" width="3" height="14" fill="#daa520"/>
<rect x="711" y="317" width="1" height="12" fill="#ffff00"/>
<rect x="715" y="301" width="1" height="35" fill="#ff4500"/>
<rect x="714" y="316" width="3" height="17" fill="#ff4500"/>
<rect x="715" y="317" width="1" height="15" fill="#ff7f50"/>
<rect x="719" y="322" width="1" height="25" fill="#ff4500"/>
<rect x="718" y="332" width="3" height="11" fill="#ff4500"/>
<rect x="719" y="333" width="1" height="9" fill="#ff7f50"/>
<rect x="723" y="327" width="1" height="25" fill="#daa520"/>
<rect x="722" y="340" width="3" height="3" fill="#daa520"/>
<rect x="723" y="341" width="1" height="1" fill="#ffff00"/>
<rect x="727" y="327" width="1" height="22" fill="#daa520"/>
<rect x="726" y="329" width="3" height="12" fill="#daa520"/>
<rect x="727" y="330" width="1" height="10" fill="#ffff00"/>
<rect x="731" y="312" width="1" height="27" fill="#ff4500"/>
<rect x="730" y="329" width="3" height="5" fill="#ff4500"/>
<rect x="731" y="330" width="1" height="3" fill="#ff7f50"/>
<rect x="735" y="332" width="1" height="38" fill="#ff4500"/>
<rect x="734" y="332" width="3" height="24" fill="#ff4500"/>
<rect x="735" y="333" width="1" height="22" fill="#ff7f50"/>
<rect x="739" y="329" width="1" height="51" fill="#daa520"/>
<rect x="738" y="344" width="3" height="11" fill="#daa520"/>
<rect x="739" y="345" width="1" height="9" fill="#ffff00"/>
<rect x="743" y="328" width="1" height="68" fill="#ff4500"/>
<rect x="742" y="344" width="3" height="40" fill="#ff4500"/>
<rect x="743" y="345" width="1" height="38" fill="#ff7f50"/>
<rect x="747" y="355" width="1" height="36" fill="#daa520"/>
<rect x="746" y="358" width="3" height="26" fill="#daa520"/>
<rect x="747" y="359" width="1" height="24" fill="#ffff00"/>
<rect x="751" y="339" width="1" height="41" fill="#daa520"/>
<rect x="750" y="343" width="3" height="16" fill="#daa520"/>
<rect x="751" y="344" width="1" height="14" fill="#ffff00"/>
<rect x="755" y="328" width="1" height="36" fill="#daa520"/>
<rect x="754" y="329" width="3" height="15" fill="#daa520"/>
<rect x="755" y="330" width="1" height="13" fill="#ffff00"/>
<rect x="759" y="308" width="1" height="56" fill="#daa520"/>
<rect x="758" y="325" width="3" height="5" fill="#daa520"/>
<rect x="759" y="326" width="1" height="3" fill="#ffff00"/>
<rect x="763" y="308" width="1" height="56" fill="#ff4500"/>
<rect x="762" y="325" width="3" height="7" fill="#ff4500"/>
<rect x="763" y="326" width="1" height="5" fill="#ff7f50"/>
<rect x="767" y="327" width="1" height="16" fill="#ff4500"/>
<rect x="766" y="331" width="3" height="9" fill="#ff4500"/>
<rect x="767" y="332" width="1" height="7" fill="#ff7f50"/>
<rect x="771" y="315" width="1" height="28" fill="#daa520"/>
<rect x="770" y="316" width="3" height="23" fill="#daa520"/>
<rect x="771" y="317" width="1" height="21" fill="#ffff00"/>
<rect x="775" y="312" width="1" height="22" fill="#ff4500"/>
<rect x="774" y="315" width="3" height="15" fill="#ff4500"/>
<rect x="775" y="316" width="1" height="13" fill="#ff7f50"/>
<rect x="779" y="320" width="1" height="16" fill="#daa520"/>
<rect x="778" y="322" width="3" height="8" fill="#daa520"/>
<rect x="779" y="323" width="1" height="6" fill="#ffff00"/>
<rect x="783" y="317" width="1" height="19" fill="#ff4500"/>
<rect x="782" y="322" width="3" height="1" fill="#ff4500"/>
<rect x="787" y="303" width="1" height="22" fill="#daa520"/>
<rect x="786" y="307" width="3" height="15" fill="#daa520"/>
<rect x="787" y="308" width="1" height="13" fill="#ffff00"/>
<rect x="791" y="290" width="1" height="24" fill="#daa520"/>
<rect x="790" y="297" width="3" height="11" fill="#daa520"/>
<rect x="791" y="298" width="1" height="9" fill="#ffff00"/>
<rect x="795" y="257" width="1" height="41" fill="#daa520"/>
<rect x="794" y="261" width="3" height="36" fill="#daa520"/>
<rect x="795" y="262" width="1" height="34" fill="#ffff00"/>
<rect x="799" y="248" width="1" height="42" fill="#ff4500"/>
<rect x="798" y="261" width="3" height="23" fill="#ff4500"/>
<rect x="799" y="262" width="1" height="21" fill="#ff7f50"/>
<rect x="803" y="266" width="1" height="24" fill="#ff4500"/>
<rect x="802" y="283" width="3" height="6" fill="#ff4500"/>
<rect x="803" y="284" width="1" height="4" fill="#ff7f50"/>
<rect x="807" y="274" width="1" height="24" fill="#daa520"/>
<rect x="806" y="278" width="3" height="11" fill="#daa520"/>
<rect x="807" y="279" width="1" height="9" fill="#ffff00"/>
<rect x="811" y="270" width="1" height="17" fill="#ff4500"/>
<rect x="810" y="278" width="3" height="2" fill="#ff4500"/>
<rect x="815" y="260" width="1" height="20" fill="#daa520"/>
<rect x="814" y="261" width="3" height="19" fill="#daa520"/>
<rect x="815" y="262" width="1" height="17" fill="#ffff00"/>
<rect x="819" y="242" width="1" height="26" fill="#daa520"/>
<rect x="818" y="251" width="3" height="11" fill="#daa520"/>
<rect x="819" y="252" width="1" height="9" fill="#ffff00"/>
<rect x="823" y="238" width="1" height="20" fill="#daa520"/>
<rect x="822" y="244" width="3" height="8" fill="#daa520"/>
<rect x="823" y="245" width="1" height="6" fill="#ffff00"/>
<rect x="827" y="244" width="1" height="24" fill="#ff4500"/>
<rect x="826" y="244" width="3" height="18" fill="#ff4500"/>
<rect x="827" y="245" width="1" height="16" fill="#ff7f50"/>
<rect x="831" y="242" width="1" height="21" fill="#daa520"/>
<rect x="830" y="243" width="3" height="18" fill="#daa520"/>
<rect x="831" y="244" width="1" height="16" fill="#ffff00"/>
<rect x="835" y="224" width="1" height="23" fill="#daa520"/>
<rect x="834" y="226" width="3" height="17" fill="#daa520"/>
<rect x="835" y="227" width="1" height="15" fill="#ffff00"/>
<rect x="839" y="205" width="1" height="23" fill="#daa520"/>
<rect x="838" y="213" width="3" height="14" fill="#daa520"/>
<rect x="839" y="214" width="1" height="12" fill="#ffff00"/>
<rect x="843" y="195" width="1" height="27" fill="#daa520"/>
<rect x="842" y="206" width="3" height="8" fill="#daa520"/>
<rect x="843" y="207" width="1" height="6" fill="#ffff00"/>
<rect x="847" y="193" width="1" height="19" fill="#daa520"/>
<rect x="846" y="197" width="3" height="14" fill="#daa520"/>
<rect x="847" y="198" width="1" height="12" fill="#ffff00"/>
<rect x="851" y="195" width="1" height="32" fill="#ff4500"/>
<rect x="850" y="197" width="3" height="23" fill="#ff4500"/>
<rect x="851" y="198" width="1" height="21" fill="#ff7f50"/>
<rect x="855" y="197" width="1" height="25" fill="#daa520"/>
<rect x="854" y="199" width="3" height="21" fill="#daa520"/>
<rect x="855" y="200" width="1" height="19" fill="#ffff00"/>
<rect x="859" y="189" width="1" height="19" fill="#daa520"/>
<rect x="858" y="193" width="3" height="7" fill="#daa520"/>
<rect x="859" y="194" width="1" height="5" fill="#ffff00"/>
<rect x="863" y="156" width="1" height="43" fill="#daa520"/>
<rect x="862" y="158" width="3" height="36" fill="#daa520"/>
<rect x="863" y="159" width="1" height="34" fill="#ffff00"/>
<rect x="867" y="154" width="1" height="32" fill="#ff4500"/>
<rect x="866" y="157" width="3" height="8" fill="#ff4500"/>
<rect x="867" y="158" width="1" height="6" fill="#ff7f50"/>
<rect x="871" y="159" width="1" height="19" fill="#ff4500"/>
<rect x="870" y="164" width="3" height="11" fill="#ff4500"/>
<rect x="871" y="165" width="1" height="9" fill="#ff7f50"/>
<rect x="875" y="139" width="1" height="43" fill="#daa520"/>
<rect x="874" y="141" width="3" height="35" fill="#daa520"/>
<rect x="875" y="142" width="1" height="33" fill="#ffff00"/>
<rect x="879" y="64" width="1" height="83" fill="#daa520"/>
<rect x="878" y="87" width="3" height="60" fill="#daa520"/>
<rect x="879" y="88" width="1" height="58" fill="#ffff00"/>
<rect x="883" y="62" width="1" height="105" fill="#ff4500"/>
<rect x="882" y="89" width="3" height="55" fill="#ff4500"/>
<rect x="883" y="90" width="1" height="53" fill="#ff7f50"/>
<rect x="887" y="107" width="1" height="43" fill="#daa520"/>
<rect x="886" y="117" width="3" height="27" fill="#daa520"/>
<rect x="887" y="118" width="1" height="25" fill="#ffff00"/>
<rect x="891" y="94" width="1" height="37" fill="#daa520"/>
<rect x="890" y="109" width="3" height="9" fill="#daa520"/>
<rect x="891" y="110" width="1" height="7" fill="#ffff00"/>
<rect x="895" y="103" width="1" height="67" fill="#ff4500"/>
<rect x="894" y="108" width="3" height="50" fill="#ff4500"/>
<rect x="895" y="109" width="1" height="48" fill="#ff7f50"/>
<rect x="899" y="108" width="1" height="50" fill="#daa520"/>
<rect x="898" y="111" width="3" height="46" fill="#daa520"/>
<rect x="899" y="112" width="1" height="44" fill="#ffff00"/>
<rect x="903" y="97" width="1" height="29" fill="#ff4500"/>
<rect x="902" y="111" width="3" height="12" fill="#ff4500"/>
<rect x="903" y="112" width="1" height="10" fill="#ff7f50"/>
<rect x="907" y="114" width="1" height="27" fill="#ff4500"/>
<rect x="906" y="122" width="3" height="9" fill="#ff4500"/>
<rect x="907" y="123" width="1" height="7" fill="#ff7f50"/>
<rect x="911" y="126" width="1" height="20" fill="#ff4500"/>
<rect x="910" y="129" width="3" height="3" fill="#ff4500"/>
<rect x="911" y="130" width="1" height="1" fill="#ff7f50"/>
<rect x="915" y="129" width="1" height="40" fill="#ff4500"/>
<rect x="914" y="131" width="3" height="29" fill="#ff4500"/>
<rect x="915" y="132" width="1" height="27" fill="#ff7f50"/>
<rect x="919" y="137" width="1" height="27" fill="#daa520"/>
<rect x="918" y="149" width="3" height="11" fill="#daa520"/>
<rect x="919" y="150" width="1" height="9" fill="#ffff00"/>
<rect x="923" y="140" width="1" height="21" fill="#daa520"/>
<rect x="922" y="144" width="3" height="5" fill="#daa520"/>
<rect x="923" y="145" width="1" height="3" fill="#ffff00"/>
<rect x="927" y="123" width="1" height="30" fill="#daa520"/>
<rect x="926" y="123" width="3" height="24" fill="#daa520"/>
<rect x="927" y="124" width="1" height="22" fill="#ffff00"/>
<rect x="931" y="98" width="1" height="28" fill="#daa520"/>
<rect x="930" y="102" width="3" height="23" fill="#daa520"/>
<rect x="931" y="103" width="1" height="21" fill="#ffff00"/>
<rect x="935" y="95" width="1" height="27" fill="#ff4500"/>
<rect x="934" y="102" width="3" height="15" fill="#ff4500"/>
<rect x="935" y="103" width="1" height="13" fill="#ff7f50"/>
<rect x="939" y="106" width="1" height="23" fill="#ff4500"/>
<rect x="938" y="116" width="3" height="2" fill="#ff4500"/>
<rect x="943" y="115" width="1" height="24" fill="#ff4500"/>
<rect x="942" y="117" width="3" height="12" fill="#ff4500"/>
<rect x="943" y="118" width="1" height="10" fill="#ff7f50"/>
<rect x="947" y="122" width="1" height="20" fill="#ff4500"/>
<rect x="946" y="127" width="3" height="6" fill="#ff4500"/>
<rect x="947" y="128" width="1" height="4" fill="#ff7f50"/>
<rect x="951" y="125" width="1" height="36" fill="#ff4500"/>
<rect x="950" y="131" width="3" height="24" fill="#ff4500"/>
<rect x="951" y="132" width="1" height="22" fill="#ff7f50"/>
<rect x="955" y="144" width="1" height="15" fill="#daa520"/>
<rect x="954" y="149" width="3" height="6" fill="#daa520"/>
<rect x="955" y="150" width="1" height="4" fill="#ffff00"/>
<rect x="959" y="147" width="1" height="77" fill="#ff4500"/>
<rect x="958" y="149" width="3" height="32" fill="#ff4500"/>
<rect x="959" y="150" width="1" height="30" fill="#ff7f50"/>
<rect x="963" y="178" width="1" height="41" fill="#ff4500"/>
<rect x="962" y="181" width="3" height="25" fill="#ff4500"/>
<rect x="963" y="182" width="1" height="23" fill="#ff7f50"/>
<rect x="967" y="195" width="1" height="67" fill="#ff4500"/>
<rect x="966" y="205" width="3" height="42" fill="#ff4500"/>
<rect x="967" y="206" width="1" height="40" fill="#ff7f50"/>
<rect x="971" y="216" width="1" height="38" fill="#daa520"/>
<rect x="970" y="222" width="3" height="26" fill="#daa520"/>
<rect x="971" y="223" width="1" height="24" fill="#ffff00"/>
<rect x="975" y="193" width="1" height="38" fill="#daa520"/>
<rect x="974" y="203" width="3" height="20" fill="#daa520"/>
<rect x="975" y="204" width="1" height="18" fill="#ffff00"/>
<rect x="979" y="197" width="1" height="35" fill="#ff4500"/>
<rect x="978" y="203" width="3" height="19" fill="#ff4500"/>
<rect x="979" y="204" width="1" height="17" fill="#ff7f50"/>
<rect x="983" y="212" width="1" height="31" fill="#ff4500"/>
<rect x="982" y="221" width="3" height="2" fill="#ff4500"/>
<rect x="987" y="221" width="1" height="28" fill="#ff4500"/>
<rect x="986" y="222" width="3" height="21" fill="#ff4500"/>
<rect x="987" y="223" width="1" height="19" fill="#ff7f50"/>
<rect x="991" y="237" width="1" height="24" fill="#ff4500"/>
<rect x="990" y="242" width="3" height="14" fill="#ff4500"/>
<rect x="991" y="243" width="1" height="12" fill="#ff7f50"/>
<rect x="995" y="234" width="1" height="22" fill="#daa520"/>
<rect x="994" y="244" width="3" height="12" fill="#daa520"/>
<rect x="995" y="245" width="1" height="10" fill="#ffff00"/>
<rect x="999" y="216" width="1" height="30" fill="#daa520"/>
<rect x="998" y="222" width="3" height="23" fill="#daa520"/>
<rect x="999" y="223" width="1" height="21" fill="#ffff00"/>
<rect x="1003" y="204" width="1" height="30" fill="#ff4500"/>
<rect x="1002" y="220" width="3" height="14" fill="#ff4500"/>
<rect x="1003" y="221" width="1" height="12" fill="#ff7f50"/>
<rect x="1007" y="220" width="1" height="18" fill="#daa520"/>
<rect x="1006" y="231" width="3" height="3" fill="#daa520"/>
<rect x="1007" y="232" width="1" height="1" fill="#ffff00"/>
<rect x="1011" y="224" width="1" height="21" fill="#ff4500"/>
<rect x="1010" y="231" width="3" height="12" fill="#ff4500"/>
<rect x="1011" y="232" width="1" height="10" fill="#ff7f50"/>
<rect x="1015" y="221" width="1" height="25" fill="#daa520"/>
<rect x="1014" y="221" width="3" height="22" fill="#daa520"/>
<rect x="1015" y="222" width="1" height="20" fill="#ffff00"/>
<rect x="1019" y="217" width="1" height="19" fill="#ff4500"/>
<rect x="1018" y="221" width="3" height="13" fill="#ff4500"/>
<rect x="1019" y="222" width="1" height="11" fill="#ff7f50"/>
<rect x="1023" y="223" width="1" height="13" fill="#daa520"/>
<rect x="1022" y="232" width="3" height="2" fill="#daa520"/>
<rect x="1027" y="231" width="1" height="24" fill="#ff4500"/>
<rect x="1026" y="232" width="3" height="22" fill="#ff4500"/>
<rect x="1027" y="233" width="1" height="20" fill="#ff7f50"/>
<rect x="1031" y="240" width="1" height="28" fill="#ff4500"/>
<rect x="1030" y="253" width="3" height="11" fill="#ff4500"/>
<rect x="1031" y="254" width="1" height="9" fill="#ff7f50"/>
<rect x="1035" y="253" width="1" height="22" fill="#ff4500"/>
<rect x="1034" y="263" width="3" height="2" fill="#ff4500"/>
<rect x="1039" y="245" width="1" height="27" fill="#daa520"/>
<rect x="1038" y="260" width="3" height="7" fill="#daa520"/>
<rect x="1039" y="261" width="1" height="5" fill="#ffff00"/>
<rect x="1043" y="227" width="1" height="38" fill="#daa520"/>
<rect x="1042" y="234" width="3" height="27" fill="#daa520"/>
<rect x="1043" y="235" width="1" height="25" fill="#ffff00"/>
<rect x="1047" y="232" width="1" height="27" fill="#ff4500"/>
<rect x="1046" y="233" width="3" height="20" fill="#ff4500"/>
<rect x="1047" y="234" width="1" height="18" fill="#ff7f50"/>
<rect x="1051" y="249" width="1" height="23" fill="#ff4500"/>
<rect x="1050" y="252" width="3" height="9" fill="#ff4500"/>
<rect x="1051" y="253" width="1" height="7" fill="#ff7f50"/>
<rect x="1055" y="249" width="1" height="14" fill="#daa520"/>
<rect x="1054" y="260" width="3" height="1" fill="#daa520"/>
<rect x="1059" y="247" width="1" height="18" fill="#daa520"/>
<rect x="1058" y="258" width="3" height="3" fill="#daa520"/>
<rect x="1059" y="259" width="1" height="1" fill="#ffff00"/>
<rect x="1063" y="254" width="1" height="13" fill="#ff4500"/>
<rect x="1062" y="258" width="3" height="6" fill="#ff4500"/>
<rect x="1063" y="259" width="1" height="4" fill="#ff7f50"/>
<rect x="1067" y="262" width="1" height="27" fill="#ff4500"/>
<rect x="1066" y="263" width="3" height="21" fill="#ff4500"/>
<rect x="1067" y="264" width="1" height="19" fill="#ff7f50"/>
<rect x="1071" y="264" width="1" height="25" fill="#daa520"/>
<rect x="1070" y="273" width="3" height="11" fill="#daa520"/>
<rect x="1071" y="274" width="1" height="9" fill="#ffff00"/>
<rect x="1075" y="270" width="1" height="9" fill="#ff4500"/>
<rect x="1074" y="273" width="3" height="5" fill="#ff4500"/>
<rect x="1075" y="274" width="1" height="3" fill="#ff7f50"/>
</g>
<g id="macd">
<rect x="2" y="722" width="3" height="2" fill="#0000ff"/>
<rect x="6" y="722" width="3" height="2" fill="#0000ff"/>
<rect x="10" y="721" width="3" height="3" fill="#0000ff"/>
<rect x="14" y="721" width="3" height="3" fill="#0000ff"/>
<rect x="18" y="721" width="3" height="3" fill="#0000ff"/>
<rect x="22" y="720" width="3" height="4" fill="#0000ff"/>
<rect x="26" y="720" width="3" height="4" fill="#0000ff"/>
<rect x="30" y="720" width="3" height="4" fill="#0000ff"/>
<rect x="34" y="720" width="3" height="4" fill="#0000ff"/>
<rect x="38" y="720" width="3" height="4" fill="#0000ff"/>
<rect x="42" y="720" width="3" height="4" fill="#0000ff"/>
<rect x="46" y="720" width="3" height="4" fill="#0000ff"/>
<rect x="50" y="720" width="3" height="4" fill="#0000ff"/>
<rect x="54" y="722" width="3" height="2" fill="#0000ff"/>
<rect x="58" y="722" width="3" height="2" fill="#0000ff"/>
<rect x="62" y="722" width="3" height="2" fill="#0000ff"/>
<rect x="66" y="722" width="3" height="2" fill="#0000ff"/>
<rect x="70" y="722" width="3" height="2" fill="#0000ff"/>
<rect x="74" y="722" width="3" height="2" fill="#0000ff"/>
<rect x="78" y="723" width="3" height="1" fill="#0000ff"/>
<rect x="82" y="723" width="3" height="1" fill="#0000ff"/>
<rect x="86" y="723" width="3" height="1" fill="#0000ff"/>
<rect x="90" y="723" width="3" height="1" fill="#0000ff"/>
<rect x="94" y="723" width="3" height="1" fill="#0000ff"/>
<rect x="98" y="721" width="3" height="3" fill="#0000ff"/>
<rect x="102" y="720" width="3" height="4" fill="#0000ff"/>
<rect x="106" y="720" width="3" height="4" fill="#0000ff"/>
<rect x="110" y="720" width="3" height="4" fill="#0000ff"/>
<rect x="114" y="720" width="3" height="4" fill="#0000ff"/>
<rect x="118" y="722" width="3" height="2" fill="#0000ff"/>
<rect x="122" y="722" width="3" height="2" fill="#0000ff"/>
<rect x="126" y="722" width="3" height="2" fill="#0000ff"/>
<rect x="130" y="723" width="3" height="1" fill="#0000ff"/>
<rect x="138" y="725" width="3" height="1" fill="#0000ff"/>
<rect x="142" y="725" width="3" height="2" fill="#0000ff"/>
<rect x="146" y="725" width="3" height="4" fill="#0000ff"/>
<rect x="150" y="725" width="3" height="5" fill="#0000ff"/>
<rect x="154" y="725" width="3" height="6" fill="#0000ff"/>
<rect x="158" y="725" width="3" height="7" fill="#0000ff"/>
<rect x="162" y="725" width="3" height="8" fill="#0000ff"/>
<rect x="166" y="725" width="3" height="10" fill="#0000ff"/>
<rect x="170" y="725" width="3" height="11" fill="#0000ff"/>
<rect x="174" y="725" width="3" height="12" fill="#0000ff"/>
<rect x="178" y="725" width="3" height="12" fill="#0000ff"/>
<rect x="182" y="725" width="3" height="14" fill="#0000ff"/>
<rect x="186" y="725" width="3" height="16" fill="#0000ff"/>
<rect x="190" y="725" width="3" height="18" fill="#0000ff"/>
<rect x="194" y="725" width="3" height="18" fill="#0000ff"/>
<rect x="198" y="725" width="3" height="18" fill="#0000ff"/>
<rect x="202" y="725" width="3" height="18" fill="#0000ff"/>
<rect x="206" y="725" width="3" height="18" fill="#0000ff"/>
<rect x="210" y="725" width="3" height="18" fill="#0000ff"/>
<rect x="214" y="725" width="3" height="18" fill="#0000ff"/>
<rect x="218" y="725" width="3" height="18" fill="#0000ff"/>
<rect x="222" y="725" width="3" height="19" fill="#0000ff"/>
<rect x="226" y="725" width="3" height="18" fill="#0000ff"/>
<rect x="230" y="725" width="3" height="17" fill="#0000ff"/>
<rect x="234" y="725" width="3" height="16" fill="#0000ff"/>
<rect x="238" y="725" width="3" height="15" fill="#0000ff"/>
<rect x="242" y="725" width="3" height="15" fill="#0000ff"/>
<rect x="246" y="725" width="3" height="14" fill="#0000ff"/>
<rect x="250" y="725" width="3" height="14" fill="#0000ff"/>
<rect x="254" y="725" width="3" height="14" fill="#0000ff"/>
<rect x="258" y="725" width="3" height="14" fill="#0000ff"/>
<rect x="262" y="725" width="3" height="14" fill="#0000ff"/>
<rect x="266" y="725" width="3" height="16" fill="#0000ff"/>
<rect x="270" y="725" width="3" height="16" fill="#0000ff"/>
<rect x="274" y="725" width="3" height="13" fill="#0000ff"/>
<rect x="278" y="725" width="3" height="11" fill="#0000ff"/>
<rect x="282" y="725" width="3" height="9" fill="#0000ff"/>
<rect x="286" y="725" width="3" height="8" fill="#0000ff"/>
<rect x="290" y="725" width="3" height="8" fill="#0000ff"/>
<rect x="294" y="725" width="3" height="7" fill="#0000ff"/>
<rect x="298" y="725" width="3" height="7" fill="#0000ff"/>
<rect x="302" y="725" width="3" height="6" fill="#0000ff"/>
<rect x="306" y="725" width="3" height="6" fill="#0000ff"/>
<rect x="310" y="725" width="3" height="6" fill="#0000ff"/>
<rect x="314" y="725" width="3" height="5" fill="#0000ff"/>
<rect x="318" y="725" width="3" height="5" fill="#0000ff"/>
<rect x="322" y="725" width="3" height="6" fill="#0000ff"/>
<rect x="326" y="725" width="3" height="5" fill="#0000ff"/>
<rect x="330" y="725" width="3" height="5" fill="#0000ff"/>
<rect x="334" y="725" width="3" height="5" fill="#0000ff"/>
<rect x="338" y="725" width="3" height="5" fill="#0000ff"/>
<rect x="342" y="725" width="3" height="5" fill="#0000ff"/>
<rect x="346" y="725" width="3" height="5" fill="#0000ff"/>
<rect x="350" y="725" width="3" height="5" fill="#0000ff"/>
<rect x="354" y="725" width="3" height="5" fill="#0000ff"/>
<rect x="358" y="725" width="3" height="6" fill="#0000ff"/>
<rect x="362" y="725" width="3" height="5" fill="#0000ff"/>
<rect x="366" y="725" width="3" height="5" fill="#0000ff"/>
<rect x="370" y="725" width="3" height="5" fill="#0000ff"/>
<rect x="374" y="725" width="3" height="5" fill="#0000ff"/>
<rect x="378" y="725" width="3" height="4" fill="#0000ff"/>
<rect x="382" y="725" width="3" height="3" fill="#0000ff"/>
<rect x="386" y="725" width="3" height="2" fill="#0000ff"/>
<rect x="390" y="725" width="3" height="2" fill="#0000ff"/>
<rect x="394" y="725" width="3" height="1" fill="#0000ff"/>
<rect x="398" y="725" width="3" height="1" fill="#0000ff"/>
<rect x="402" y="723" width="3" height="1" fill="#0000ff"/>
<rect x="406" y="722" width="3" height="2" fill="#0000ff"/>
<rect x="410" y="720" width="3" height="4" fill="#0000ff"/>
<rect x="414" y="718" width="3" height="6" fill="#0000ff"/>
<rect x="418" y="717" width="3" height="7" fill="#0000ff"/>
<rect x="422" y="717" width="3" height="7" fill="#0000ff"/>
<rect x="426" y="716" width="3" height="8" fill="#0000ff"/>
<rect x="430" y="715" width="3" height="9" fill="#0000ff"/>
<rect x="434" y="715" width="3" height="9" fill="#0000ff"/>
<rect x="438" y="715" width="3" height="9" fill="#0000ff"/>
<rect x="442" y="715" width="3" height="9" fill="#0000ff"/>
<rect x="446" y="713" width="3" height="11" fill="#0000ff"/>
<rect x="450" y="710" width="3" height="14" fill="#0000ff"/>
<rect x="454" y="709" width="3" height="15" fill="#0000ff"/>
<rect x="458" y="709" width="3" height="15" fill="#0000ff"/>
<rect x="462" y="710" width="3" height="14" fill="#0000ff"/>
<rect x="466" y="711" width="3" height="13" fill="#0000ff"/>
<rect x="470" y="709" width="3" height="15" fill="#0000ff"/>
<rect x="474" y="710" width="3" height="14" fill="#0000ff"/>
<rect x="478" y="710" width="3" height="14" fill="#0000ff"/>
<rect x="482" y="708" width="3" height="16" fill="#0000ff"/>
<rect x="486" y="707" width="3" height="17" fill="#0000ff"/>
<rect x="490" y="706" width="3" height="18" fill="#0000ff"/>
<rect x="494" y="705" width="3" height="19" fill="#0000ff"/>
<rect x="498" y="704" width="3" height="20" fill="#0000ff"/>
<rect x="502" y="702" width="3" height="22" fill="#0000ff"/>
<rect x="506" y="702" width="3" height="22" fill="#0000ff"/>
<rect x="510" y="702" width="3" height="22" fill="#0000ff"/>
<rect x="514" y="701" width="3" height="23" fill="#0000ff"/>
<rect x="518" y="704" width="3" height="20" fill="#0000ff"/>
<rect x="522" y="704" width="3" height="20" fill="#0000ff"/>
<rect x="526" y="705" width="3" height="19" fill="#0000ff"/>
<rect x="530" y="706" width="3" height="18" fill="#0000ff"/>
<rect x="534" y="707" width="3" height="17" fill="#0000ff"/>
<rect x="538" y="707" width="3" height="17" fill="#0000ff"/>
<rect x="542" y="707" width="3" height="17" fill="#0000ff"/>
<rect x="546" y="706" width="3" height="18" fill="#0000ff"/>
<rect x="550" y="704" width="3" height="20" fill="#0000ff"/>
<rect x="554" y="703" width="3" height="21" fill="#0000ff"/>
<rect x="558" y="704" width="3" height="20" fill="#0000ff"/>
<rect x="562" y="704" width="3" height="20" fill="#0000ff"/>
<rect x="566" y="705" width="3" height="19" fill="#0000ff"/>
<rect x="570" y="706" width="3" height="18" fill="#0000ff"/>
<rect x="574" y="707" width="3" height="17" fill="#0000ff"/>
<rect x="578" y="708" width="3" height="16" fill="#0000ff"/>
<rect x="582" y="708" width="3" height="16" fill="#0000ff"/>
<rect x="586" y="709" width="3" height="15" fill="#0000ff"/>
<rect x="590" y="710" width="3" height="14" fill="#0000ff"/>
<rect x="594" y="708" width="3" height="16" fill="#0000ff"/>
<rect x="598" y="707" width="3" height="17" fill="#0000ff"/>
<rect x="602" y="704" width="3" height="20" fill="#0000ff"/>
<rect x="606" y="701" width="3" height="23" fill="#0000ff"/>
<rect x="610" y="695" width="3" height="29" fill="#0000ff"/>
<rect x="614" y="691" width="3" height="33" fill="#0000ff"/>
<rect x="618" y="687" width="3" height="37" fill="#0000ff"/>
<rect x="622" y="679" width="3" height="45" fill="#0000ff"/>
<rect x="626" y="675" width="3" height="49" fill="#0000ff"/>
<rect x="630" y="673" width="3" height="51" fill="#0000ff"/>
<rect x="634" y="671" width="3" height="53" fill="#0000ff"/>
<rect x="638" y="671" width="3" height="53" fill="#0000ff"/>
<rect x="642" y="674" width="3" height="50" fill="#0000ff"/>
<rect x="646" y="676" width="3" height="48" fill="#0000ff"/>
<rect x="650" y="675" width="3" height="49" fill="#0000ff"/>
<rect x="654" y="676" width="3" height="48" fill="#0000ff"/>
<rect x="658" y="676" width="3" height="48" fill="#0000ff"/>
<rect x="662" y="675" width="3" height="49" fill="#0000ff"/>
<rect x="666" y="675" width="3" height="49" fill="#0000ff"/>
<rect x="670" y="676" width="3" height="48" fill="#0000ff"/>
<rect x="674" y="677" width="3" height="47" fill="#0000ff"/>
<rect x="678" y="680" width="3" height="44" fill="#0000ff"/>
<rect x="682" y="681" width="3" height="43" fill="#0000ff"/>
<rect x="686" y="682" width="3" height="42" fill="#0000ff"/>
<rect x="690" y="679" width="3" height="45" fill="#0000ff"/>
<rect x="694" y="673" width="3" height="51" fill="#0000ff"/>
<rect x="698" y="670" width="3" height="54" fill="#0000ff"/>
<rect x="702" y="665" width="3" height="59" fill="#0000ff"/>
<rect x="706" y="655" width="3" height="69" fill="#0000ff"/>
<rect x="710" y="645" width="3" height="79" fill="#0000ff"/>
<rect x="714" y="642" width="3" height="82" fill="#0000ff"/>
<rect x="718" y="643" width="3" height="81" fill="#0000ff"/>
<rect x="722" y="644" width="3" height="80" fill="#0000ff"/>
<rect x="726" y="643" width="3" height="81" fill="#0000ff"/>
<rect x="730" y="644" width="3" height="80" fill="#0000ff"/>
<rect x="734" y="652" width="3" height="72" fill="#0000ff"/>
<rect x="738" y="656" width="3" height="68" fill="#0000ff"/>
<rect x="742" y="669" width="3" height="55" fill="#0000ff"/>
<rect x="746" y="675" width="3" height="49" fill="#0000ff"/>
<rect x="750" y="675" width="3" height="49" fill="#0000ff"/>
<rect x="754" y="673" width="3" height="51" fill="#0000ff"/>
<rect x="758" y="670" width="3" height="54" fill="#0000ff"/>
<rect x="762" y="671" width="3" height="53" fill="#0000ff"/>
<rect x="766" y="674" width="3" height="50" fill="#0000ff"/>
<rect x="770" y="671" width="3" height="53" fill="#0000ff"/>
<rect x="774" y="672" width="3" height="52" fill="#0000ff"/>
<rect x="778" y="673" width="3" height="51" fill="#0000ff"/>
<rect x="782" y="673" width="3" height="51" fill="#0000ff"/>
<rect x="786" y="670" width="3" height="54" fill="#0000ff"/>
<rect x="790" y="666" width="3" height="58" fill="#0000ff"/>
<rect x="794" y="654" width="3" height="70" fill="#0000ff"/>
<rect x="798" y="651" width="3" height="73" fill="#0000ff"/>
<rect x="802" y="651" width="3" height="73" fill="#0000ff"/>
<rect x="806" y="649" width="3" height="75" fill="#0000ff"/>
<rect x="810" y="649" width="3" height="75" fill="#0000ff"/>
<rect x="814" y="645" width="3" height="79" fill="#0000ff"/>
<rect x="818" y="640" width="3" height="84" fill="#0000ff"/>
<rect x="822" y="636" width="3" height="88" fill="#0000ff"/>
<rect x="826" y="637" width="3" height="87" fill="#0000ff"/>
<rect x="830" y="635" width="3" height="89" fill="#0000ff"/>
<rect x="834" y="630" width="3" height="94" fill="#0000ff"/>
<rect x="838" y="624" width="3" height="100" fill="#0000ff"/>
<rect x="842" y="618" width="3" height="106" fill="#0000ff"/>
<rect x="846" y="613" width="3" height="111" fill="#0000ff"/>
<rect x="850" y="616" width="3" height="108" fill="#0000ff"/>
<rect x="854" y="614" width="3" height="110" fill="#0000ff"/>
<rect x="858" y="612" width="3" height="112" fill="#0000ff"/>
<rect x="862" y="603" width="3" height="121" fill="#0000ff"/>
<rect x="866" y="599" width="3" height="125" fill="#0000ff"/>
<rect x="870" y="600" width="3" height="124" fill="#0000ff"/>
<rect x="874" y="594" width="3" height="130" fill="#0000ff"/>
<rect x="878" y="576" width="3" height="148" fill="#0000ff"/>
<rect x="882" y="578" width="3" height="146" fill="#0000ff"/>
<rect x="886" y="575" width="3" height="149" fill="#0000ff"/>
<rect x="890" y="572" width="3" height="152" fill="#0000ff"/>
<rect x="894" y="584" width="3" height="140" fill="#0000ff"/>
<rect x="898" y="583" width="3" height="141" fill="#0000ff"/>
<rect x="902" y="587" width="3" height="137" fill="#0000ff"/>
<rect x="906" y="593" width="3" height="131" fill="#0000ff"/>
<rect x="910" y="600" width="3" height="124" fill="#0000ff"/>
<rect x="914" y="614" width="3" height="110" fill="#0000ff"/>
<rect x="918" y="624" width="3" height="100" fill="#0000ff"/>
<rect x="922" y="631" width="3" height="93" fill="#0000ff"/>
<rect x="926" y="633" width="3" height="91" fill="#0000ff"/>
<rect x="930" y="630" width="3" height="94" fill="#0000ff"/>
<rect x="934" y="632" width="3" height="92" fill="#0000ff"/>
<rect x="938" y="635" width="3" height="89" fill="#0000ff"/>
<rect x="942" y="641" width="3" height="83" fill="#0000ff"/>
<rect x="946" y="647" width="3" height="77" fill="#0000ff"/>
<rect x="950" y="659" width="3" height="65" fill="#0000ff"/>
<rect x="954" y="668" width="3" height="56" fill="#0000ff"/>
<rect x="958" y="684" width="3" height="40" fill="#0000ff"/>
<rect x="962" y="703" width="3" height="21" fill="#0000ff"/>
<rect x="966" y="725" width="3" height="4" fill="#0000ff"/>
<rect x="970" y="725" width="3" height="18" fill="#0000ff"/>
<rect x="974" y="725" width="3" height="24" fill="#0000ff"/>
<rect x="978" y="725" width="3" height="33" fill="#0000ff"/>
<rect x="982" y="725" width="3" height="40" fill="#0000ff"/>
<rect x="986" y="725" width="3" height="49" fill="#0000ff"/>
<rect x="990" y="725" width="3" height="60" fill="#0000ff"/>
<rect x="994" y="725" width="3" height="65" fill="#0000ff"/>
<rect x="998" y="725" width="3" height="62" fill="#0000ff"/>
<rect x="1002" y="725" width="3" height="62" fill="#0000ff"/>
<rect x="1006" y="725" width="3" height="61" fill="#0000ff"/>
<rect x="1010" y="725" width="3" height="62" fill="#0000ff"/>
<rect x="1014" y="725" width="3" height="57" fill="#0000ff"/>
<rect x="1018" y="725" width="3" height="56" fill="#0000ff"/>
<rect x="1022" y="725" width="3" height="54" fill="#0000ff"/>
<rect x="1026" y="725" width="3" height="57" fill="#0000ff"/>
<rect x="1030" y="725" width="3" height="61" fill="#0000ff"/>
<rect x="1034" y="725" width="3" height="64" fill="#0000ff"/>
<rect x="1038" y="725" width="3" height="64" fill="#0000ff"/>
<rect x="1042" y="725" width="3" height="57" fill="#0000ff"/>
<rect x="1046" y="725" width="3" height="56" fill="#0000ff"/>
<rect x="1050" y="725" width="3" height="56" fill="#0000ff"/>
<rect x="1054" y="725" width="3" height="55" fill="#0000ff"/>
<rect x="1058" y="725" width="3" height="54" fill="#0000ff"/>
<rect x="1062" y="725" width="3" height="54" fill="#0000ff"/>
<rect x="1066" y="725" width="3" height="57" fill="#0000ff"/>
<rect x="1070" y="725" width="3" height="58" fill="#0000ff"/>
<rect x="1074" y="725" width="3" height="58" fill="#0000ff"/>
<rect x="0" y="722" width="1" height="2" fill="#0000ff"/>
<polyline points="27.5,721.5 31.5,721.5 35.5,721.5 39.5,721.5 43.5,720.0 47.5,720.0 51.5,720.0 55.5,721.0 59.5,721.0 63.5,721.0 67.5,721.0 71.5,721.0 75.5,721.0 79.5,722.5 83.5,722.5 87.5,722.5 91.5,722.5 95.5,722.5 99.5,722.5 103.5,722.5 107.5,721.5 111.5,721.5 115.5,721.5 119.5,721.5 123.5,721.5 127.5,721.5 131.5,721.5 135.5,721.5 139.5,722.5 143.5,723.5 147.5,723.5 151.5,724.0 155.5,725.0 159.5,726.5 163.5,727.5 167.5,729.2 171.5,730.4 175.5,731.4 179.5,732.4 183.5,733.4 187.5,735.4 191.5,736.3 195.5,737.4 199.5,738.4 203.5,739.4 207.5,740.4 211.5,741.4 215.5,741.4 219.5,742.4 223.5,742.4 227.5,742.4 231.5,742.4 235.5,742.4 239.5,741.4 243.5,741.4 247.5,741.4 251.5,740.5 255.5,740.5 259.5,739.5 263.5,739.5 267.5,739.5 271.5,739.5 275.5,739.5 279.5,738.3 283.5,737.5 287.5,737.5 291.5,736.7 295.5,735.8 299.5,734.8 303.5,734.0 307.5,733.0 311.5,732.6 315.5,731.2 319.5,731.2 323.5,731.5 327.5,730.5 331.5,730.5 335.5,730.5 339.5,730.5 343.5,730.5 347.5,730.5 351.5,730.5 355.5,730.5 359.5,730.5 363.5,730.5 367.5,730.5 371.5,730.5 375.5,730.5 379.5,730.5 383.5,729.5 387.5,729.5 391.5,729.5 395.5,728.6 399.5,727.6 403.5,726.4 407.5,726.4 411.5,725.4 415.5,723.5 419.5,722.6 423.5,721.6 427.5,720.6 431.5,719.7 435.5,718.8 439.5,717.8 443.5,717.0 447.5,716.0 451.5,715.0 455.5,714.3 459.5,714.0 463.5,713.0 467.5,712.8 471.5,711.5 475.5,711.5 479.5,710.5 483.5,710.5 487.5,709.4 491.5,709.4 495.5,708.6 499.5,708.6 503.5,707.7 507.5,706.5 511.5,705.5 515.5,704.5 519.5,703.5 523.5,703.5 527.5,703.5 531.5,703.5 535.5,703.5 539.5,704.5 543.5,705.5 547.5,705.5 551.5,705.5 555.5,705.5 559.5,705.5 563.5,705.5 567.5,705.5 571.5,705.5 575.5,705.5 579.5,705.5 583.5,706.5 587.5,706.5 591.5,707.5 595.5,707.5 599.5,708.5 603.5,707.5 607.5,707.5 611.5,706.5 615.5,704.5 619.5,702.4 623.5,699.5 627.5,696.3 631.5,692.5 635.5,688.4 639.5,684.3 643.5,680.7 647.5,678.8 651.5,676.9 655.5,674.7 659.5,674.3 663.5,674.3 667.5,674.3 671.5,675.2 675.5,675.3 679.5,676.2 683.5,677.1 687.5,678.4 691.5,678.5 695.5,678.1 699.5,677.1 703.5,676.0 707.5,674.1 711.5,670.5 715.5,666.1 719.5,661.7 723.5,657.6 727.5,653.5 731.5,650.3 735.5,648.1 739.5,647.5 743.5,649.0 747.5,652.2 751.5,656.0 755.5,659.4 759.5,662.3 763.5,665.2 767.5,668.4 771.5,670.5 775.5,672.2 779.5,672.4 783.5,672.4 787.5,672.2 791.5,671.2 795.5,669.3 799.5,667.8 803.5,664.9 807.5,662.1 811.5,659.2 815.5,656.1 819.5,653.5 823.5,649.5 827.5,646.0 831.5,644.1 835.5,641.3 839.5,638.4 843.5,635.2 847.5,631.4 851.5,628.2 855.5,625.5 859.5,622.6 863.5,618.8 867.5,615.0 871.5,611.5 875.5,608.6 879.5,603.6 883.5,599.2 887.5,595.1 891.5,590.3 895.5,586.9 899.5,584.6 903.5,583.6 907.5,583.6 911.5,583.6 915.5,588.4 919.5,593.5 923.5,599.8 927.5,606.1 931.5,610.5 935.5,615.6 939.5,620.7 943.5,626.3 947.5,631.4 951.5,636.5 955.5,642.2 959.5,647.8 963.5,653.9 967.5,664.0 971.5,676.7 975.5,690.0 979.5,703.2 983.5,715.9 987.5,731.6 991.5,743.8 995.5,754.8 999.5,763.7 1003.5,770.3 1007.5,775.3 1011.5,779.2 1015.5,782.2 1019.5,783.4 1023.5,784.4 1027.5,783.4 1031.5,783.4 1035.5,783.4 1039.5,784.4 1043.5,783.4 1047.5,782.2 1051.5,782.2 1055.5,782.2 1059.5,782.2 1063.5,782.2 1067.5,782.2 1071.5,781.4 1075.5,780.5" fill="none" stroke="#ff0000" stroke-width="1" />
<rect x="0" y="724" width="1221" height="1" fill="#8b008b"/>
</g>
<g id="fisher">
<rect x="0" y="813" width="1221" height="1" fill="#8b008b"/>
<rect x="2" y="814" width="3" height="1" fill="#990099"/>
<rect x="6" y="814" width="3" height="2" fill="#990099"/>
<rect x="26" y="814" width="3" height="1" fill="#990099"/>
<rect x="30" y="814" width="3" height="1" fill="#990099"/>
<rect x="34" y="814" width="3" height="2" fill="#990099"/>
<rect x="38" y="814" width="3" height="6" fill="#990099"/>
<rect x="42" y="814" width="3" height="5" fill="#990099"/>
<rect x="46" y="814" width="3" height="1" fill="#990099"/>
<rect x="66" y="814" width="3" height="2" fill="#990099"/>
<rect x="70" y="814" width="3" height="1" fill="#990099"/>
<rect x="74" y="814" width="3" height="2" fill="#990099"/>
<rect x="78" y="814" width="3" height="1" fill="#990099"/>
<rect x="94" y="814" width="3" height="1" fill="#990099"/>
<rect x="98" y="814" width="3" height="5" fill="#990099"/>
<rect x="102" y="814" width="3" height="7" fill="#990099"/>
<rect x="106" y="814" width="3" height="10" fill="#990099"/>
<rect x="110" y="814" width="3" height="7" fill="#990099"/>
<rect x="114" y="814" width="3" height="6" fill="#990099"/>
<rect x="118" y="814" width="3" height="5" fill="#990099"/>
<rect x="122" y="814" width="3" height="3" fill="#990099"/>
<rect x="126" y="814" width="3" height="2" fill="#990099"/>
<rect x="130" y="814" width="3" height="7" fill="#990099"/>
<rect x="134" y="814" width="3" height="7" fill="#990099"/>
<rect x="138" y="814" width="3" height="7" fill="#990099"/>
<rect x="142" y="814" width="3" height="7" fill="#990099"/>
<rect x="146" y="814" width="3" height="5" fill="#990099"/>
<rect x="150" y="814" width="3" height="4" fill="#990099"/>
<rect x="154" y="814" width="3" height="5" fill="#990099"/>
<rect x="158" y="814" width="3" height="7" fill="#990099"/>
<rect x="162" y="814" width="3" height="6" fill="#990099"/>
<rect x="166" y="814" width="3" height="6" fill="#990099"/>
<rect x="170" y="814" width="3" height="5" fill="#990099"/>
<rect x="174" y="814" width="3" height="4" fill="#990099"/>
<rect x="178" y="814" width="3" height="4" fill="#990099"/>
<rect x="182" y="814" width="3" height="6" fill="#990099"/>
<rect x="186" y="814" width="3" height="5" fill="#990099"/>
<rect x="202" y="814" width="3" height="1" fill="#990099"/>
<rect x="206" y="814" width="3" height="2" fill="#990099"/>
<rect x="210" y="814" width="3" height="5" fill="#990099"/>
<rect x="214" y="814" width="3" height="3" fill="#990099"/>
<rect x="218" y="814" width="3" height="1" fill="#990099"/>
<rect x="230" y="814" width="3" height="3" fill="#990099"/>
<rect x="234" y="814" width="3" height="7" fill="#990099"/>
<rect x="238" y="814" width="3" height="6" fill="#990099"/>
<rect x="242" y="814" width="3" height="6" fill="#990099"/>
<rect x="246" y="814" width="3" height="6" fill="#990099"/>
<rect x="250" y="814" width="3" height="8" fill="#990099"/>
<rect x="254" y="814" width="3" height="9" fill="#990099"/>
<rect x="258" y="814" width="3" height="8" fill="#990099"/>
<rect x="262" y="814" width="3" height="8" fill="#990099"/>
<rect x="266" y="814" width="3" height="5" fill="#990099"/>
<rect x="270" y="814" width="3" height="4" fill="#990099"/>
<rect x="274" y="814" width="3" height="5" fill="#990099"/>
<rect x="278" y="814" width="3" height="6" fill="#990099"/>
<rect x="282" y="814" width="3" height="9" fill="#990099"/>
<rect x="286" y="814" width="3" height="5" fill="#990099"/>
<rect x="290" y="814" width="3" height="5" fill="#990099"/>
<rect x="294" y="814" width="3" height="7" fill="#990099"/>
<rect x="298" y="814" width="3" height="8" fill="#990099"/>
<rect x="302" y="814" width="3" height="4" fill="#990099"/>
<rect x="306" y="814" width="3" height="3" fill="#990099"/>
<rect x="310" y="814" width="3" height="2" fill="#990099"/>
<rect x="314" y="814" width="3" height="2" fill="#990099"/>
<rect x="318" y="814" width="3" height="3" fill="#990099"/>
<rect x="322" y="814" width="3" height="1" fill="#990099"/>
<rect x="334" y="814" width="3" height="1" fill="#990099"/>
<rect x="346" y="814" width="3" height="1" fill="#990099"/>
<rect x="354" y="814" width="3" height="1" fill="#990099"/>
<rect x="358" y="814" width="3" height="5" fill="#990099"/>
<rect x="362" y="814" width="3" height="6" fill="#990099"/>
<rect x="366" y="814" width="3" height="5" fill="#990099"/>
<rect x="370" y="814" width="3" height="6" fill="#990099"/>
<rect x="374" y="814" width="3" height="2" fill="#990099"/>
<rect x="386" y="814" width="3" height="1" fill="#990099"/>
<rect x="418" y="814" width="3" height="1" fill="#990099"/>
<rect x="446" y="814" width="3" height="1" fill="#990099"/>
<rect x="454" y="814" width="3" height="3" fill="#990099"/>
<rect x="458" y="814" width="3" height="5" fill="#990099"/>
<rect x="462" y="814" width="3" height="4" fill="#990099"/>
<rect x="506" y="814" width="3" height="3" fill="#990099"/>
<rect x="510" y="814" width="3" height="3" fill="#990099"/>
<rect x="550" y="814" width="3" height="1" fill="#990099"/>
<rect x="554" y="814" width="3" height="2" fill="#990099"/>
<rect x="558" y="814" width="3" height="3" fill="#990099"/>
<rect x="562" y="814" width="3" height="3" fill="#990099"/>
<rect x="570" y="814" width="3" height="3" fill="#990099"/>
<rect x="674" y="814" width="3" height="2" fill="#990099"/>
<rect x="710" y="814" width="3" height="2" fill="#990099"/>
<rect x="714" y="814" width="3" height="3" fill="#990099"/>
<rect x="930" y="814" width="3" height="3" fill="#990099"/>
<rect x="934" y="814" width="3" height="7" fill="#990099"/>
<rect x="938" y="814" width="3" height="9" fill="#990099"/>
<rect x="942" y="814" width="3" height="8" fill="#990099"/>
<rect x="946" y="814" width="3" height="8" fill="#990099"/>
<rect x="950" y="814" width="3" height="7" fill="#990099"/>
<rect x="954" y="814" width="3" height="7" fill="#990099"/>
<rect x="958" y="814" width="3" height="6" fill="#990099"/>
<rect x="962" y="814" width="3" height="7" fill="#990099"/>
<rect x="966" y="814" width="3" height="8" fill="#990099"/>
<rect x="974" y="814" width="3" height="3" fill="#990099"/>
<rect x="978" y="814" width="3" height="5" fill="#990099"/>
<rect x="982" y="814" width="3" height="5" fill="#990099"/>
<rect x="986" y="814" width="3" height="3" fill="#990099"/>
<rect x="994" y="814" width="3" height="1" fill="#990099"/>
<rect x="998" y="814" width="3" height="4" fill="#990099"/>
<rect x="1002" y="814" width="3" height="5" fill="#990099"/>
<rect x="1006" y="814" width="3" height="3" fill="#990099"/>
<rect x="1010" y="814" width="3" height="3" fill="#990099"/>
<rect x="1014" y="814" width="3" height="4" fill="#990099"/>
<rect x="1018" y="814" width="3" height="7" fill="#990099"/>
<rect x="1022" y="814" width="3" height="7" fill="#990099"/>
<rect x="1026" y="814" width="3" height="3" fill="#990099"/>
<rect x="1042" y="814" width="3" height="2" fill="#990099"/>
<rect x="1046" y="814" width="3" height="3" fill="#990099"/>
<rect x="1050" y="814" width="3" height="3" fill="#990099"/>
<rect x="1058" y="814" width="3" height="4" fill="#990099"/>
<rect x="1062" y="814" width="3" height="4" fill="#990099"/>
<rect x="226" y="812" width="3" height="1" fill="#008b8b"/>
<rect x="394" y="809" width="3" height="4" fill="#008b8b"/>
<rect x="398" y="808" width="3" height="5" fill="#008b8b"/>
<rect x="402" y="809" width="3" height="4" fill="#008b8b"/>
<rect x="406" y="809" width="3" height="4" fill="#008b8b"/>
<rect x="410" y="810" width="3" height="3" fill="#008b8b"/>
<rect x="470" y="811" width="3" height="2" fill="#008b8b"/>
<rect x="474" y="810" width="3" height="3" fill="#008b8b"/>
<rect x="478" y="810" width="3" height="3" fill="#008b8b"/>
<rect x="482" y="808" width="3" height="5" fill="#008b8b"/>
<rect x="486" y="808" width="3" height="5" fill="#008b8b"/>
<rect x="526" y="809" width="3" height="4" fill="#008b8b"/>
<rect x="534" y="809" width="3" height="4" fill="#008b8b"/>
<rect x="538" y="808" width="3" height="5" fill="#008b8b"/>
<rect x="542" y="808" width="3" height="5" fill="#008b8b"/>
<rect x="546" y="810" width="3" height="3" fill="#008b8b"/>
<rect x="586" y="811" width="3" height="2" fill="#008b8b"/>
<rect x="590" y="806" width="3" height="7" fill="#008b8b"/>
<rect x="594" y="805" width="3" height="8" fill="#008b8b"/>
<rect x="598" y="805" width="3" height="8" fill="#008b8b"/>
<rect x="602" y="807" width="3" height="6" fill="#008b8b"/>
<rect x="606" y="806" width="3" height="7" fill="#008b8b"/>
<rect x="610" y="808" width="3" height="5" fill="#008b8b"/>
<rect x="614" y="809" width="3" height="4" fill="#008b8b"/>
<rect x="618" y="810" width="3" height="3" fill="#008b8b"/>
<rect x="642" y="812" width="3" height="1" fill="#008b8b"/>
<rect x="646" y="810" width="3" height="3" fill="#008b8b"/>
<rect x="650" y="808" width="3" height="5" fill="#008b8b"/>
<rect x="654" y="810" width="3" height="3" fill="#008b8b"/>
<rect x="658" y="811" width="3" height="2" fill="#008b8b"/>
<rect x="682" y="810" width="3" height="3" fill="#008b8b"/>
<rect x="686" y="809" width="3" height="4" fill="#008b8b"/>
<rect x="690" y="806" width="3" height="7" fill="#008b8b"/>
<rect x="694" y="806" width="3" height="7" fill="#008b8b"/>
<rect x="698" y="809" width="3" height="4" fill="#008b8b"/>
<rect x="782" y="808" width="3" height="5" fill="#008b8b"/>
<rect x="786" y="808" width="3" height="5" fill="#008b8b"/>
<rect x="790" y="810" width="3" height="3" fill="#008b8b"/>
<rect x="806" y="807" width="3" height="6" fill="#008b8b"/>
<rect x="810" y="805" width="3" height="8" fill="#008b8b"/>
<rect x="814" y="806" width="3" height="7" fill="#008b8b"/>
<rect x="818" y="806" width="3" height="7" fill="#008b8b"/>
<rect x="822" y="807" width="3" height="6" fill="#008b8b"/>
<rect x="826" y="807" width="3" height="6" fill="#008b8b"/>
<rect x="830" y="804" width="3" height="9" fill="#008b8b"/>
<rect x="834" y="804" width="3" height="9" fill="#008b8b"/>
<rect x="838" y="806" width="3" height="7" fill="#008b8b"/>
<rect x="842" y="808" width="3" height="5" fill="#008b8b"/>
<rect x="846" y="808" width="3" height="5" fill="#008b8b"/>
<rect x="850" y="809" width="3" height="4" fill="#008b8b"/>
<rect x="854" y="807" width="3" height="6" fill="#008b8b"/>
<rect x="858" y="807" width="3" height="6" fill="#008b8b"/>
<g style="filter:grayscale(1)"><text x="-5" y="815" font-size="10" fill="#fff" stroke="#fff" stroke-width="0.15" textLength="81.5" lengthAdjust="spacingAndGlyphs">Fisher_Yur4ik 0.050</text></g>
<polyline points="7.5,813.5 11.5,813.5 15.5,813.5 19.5,813.5 23.5,813.5 27.5,813.5 31.5,813.5 35.5,813.5 39.5,813.5 43.5,813.5 47.5,813.5 51.5,813.5 55.5,813.5 59.5,813.5 63.5,813.5 67.5,813.5 71.5,813.5 75.5,813.5 79.5,813.5 83.5,813.5 87.5,813.5 91.5,812.5 95.5,812.5 99.5,812.5 103.5,812.5 107.5,813.5 111.5,813.5 115.5,813.5 119.5,813.5 123.5,813.5 127.5,813.5 131.5,813.5 135.5,813.5 139.5,813.5 143.5,813.5 147.5,814.5 151.5,813.5 155.5,813.5 159.5,813.5 163.5,813.5 167.5,813.5 171.5,813.5 175.5,813.5 179.5,812.5 183.5,813.5 187.5,813.5 191.5,813.5 195.5,812.9 199.5,812.9 203.5,812.9 207.5,812.9 211.5,812.9 215.5,812.9 219.5,812.9 223.5,813.5 227.5,812.7 231.5,812.7 235.5,812.7 239.5,812.7 243.5,812.7 247.5,812.7 251.5,812.7 255.5,812.7 259.5,812.7 263.5,813.5 267.5,813.5 271.5,813.5 275.5,811.5 279.5,811.5 283.5,811.5 287.5,812.5 291.5,812.5 295.5,812.5 299.5,812.5 303.5,813.5 307.5,813.5 311.5,812.5 315.5,812.5 319.5,813.5 323.5,813.5 327.5,813.5 331.5,813.5 335.5,813.5 339.5,813.5 343.5,812.5 347.5,813.5 351.5,813.5 355.5,812.5 359.5,813.5 363.5,813.5 367.5,812.9 371.5,812.9 375.5,812.9 379.5,812.9 383.5,812.9 387.5,812.9 391.5,813.8 395.5,813.8 399.5,812.9 403.5,812.9 407.5,812.9 411.5,812.9 415.5,812.9 419.5,812.9 423.5,813.5 427.5,813.5 431.5,812.9 435.5,813.8 439.5,813.8 443.5,813.8 447.5,812.9 451.5,811.9 455.5,812.9 459.5,813.8 463.5,813.8 467.5,813.8 471.5,812.9 475.5,813.5 479.5,813.5 483.5,812.9 487.5,812.9 491.5,812.9 495.5,813.8 499.5,812.9 503.5,812.9 507.5,813.8 511.5,813.8 515.5,812.9 519.5,813.8 523.5,814.5 527.5,813.8 531.5,813.8 535.5,813.8 539.5,812.9 543.5,812.9 547.5,812.9 551.5,811.9 555.5,812.9 559.5,813.8 563.5,813.8 567.5,813.8 571.5,813.8 575.5,813.8 579.5,813.8 583.5,813.8 587.5,813.8 591.5,812.9 595.5,812.9 599.5,812.9 603.5,811.9 607.5,811.9 611.5,810.9 615.5,811.5 619.5,812.5 623.5,810.9 627.5,811.9 631.5,813.8 635.5,814.5 639.5,814.5 643.5,815.2 647.5,815.2 651.5,813.3 655.5,813.3 659.5,813.3 663.5,813.3 667.5,813.3 671.5,813.3 675.5,813.3 679.5,814.5 683.5,813.3 687.5,813.3 691.5,811.0 695.5,809.0 699.5,810.8 703.5,810.8 707.5,808.6 711.5,808.6 715.5,813.3 719.5,816.2 723.5,816.2 727.5,814.2 731.5,814.2 735.5,817.0 739.5,816.0 743.5,819.6 747.5,814.5 751.5,810.8 755.5,809.0 759.5,809.0 763.5,812.4 767.5,814.5 771.5,811.6 775.5,812.6 779.5,812.6 783.5,812.6 787.5,811.0 791.5,810.0 795.5,807.3 799.5,811.4 803.5,814.2 807.5,814.2 811.5,813.3 815.5,812.4 819.5,811.6 823.5,812.0 827.5,814.5 831.5,813.3 835.5,811.0 839.5,810.8 843.5,810.8 847.5,810.8 851.5,815.4 855.5,814.5 859.5,812.4 863.5,809.5 867.5,811.0 871.5,814.2 875.5,809.9 879.5,804.8 883.5,812.6 887.5,815.0 891.5,813.7 895.5,819.6 899.5,815.2 903.5,814.5 907.5,816.2 911.5,816.4 915.5,819.2 919.5,817.0 923.5,814.0 927.5,810.8 931.5,808.2 935.5,811.0 939.5,813.3 943.5,815.0 947.5,815.2 951.5,816.4 955.5,815.8 959.5,817.7 963.5,820.9 967.5,822.8 971.5,816.4 975.5,809.5 979.5,810.4 983.5,811.6 987.5,813.3 991.5,814.2 995.5,811.0 999.5,807.3 1003.5,809.0 1007.5,810.4 1011.5,812.0 1015.5,809.5 1019.5,810.8 1023.5,812.6 1027.5,814.2 1031.5,815.8 1035.5,814.2 1039.5,812.0 1043.5,808.2 1047.5,810.8 1051.5,813.3 1055.5,813.3 1059.5,812.4 1063.5,812.6 1067.5,815.4 1071.5,813.7 1075.5,812.4" fill="none" stroke="#9acd32" stroke-width="2.2" shape-rendering="geometricPrecision" stroke-linejoin="round" stroke-linecap="butt"/>
<polyline points="7.5,813.5 11.5,813.5 15.5,813.5 19.5,813.5 23.5,813.5 27.5,813.5 31.5,813.5 35.5,813.5 39.5,813.5 43.5,813.5 47.5,813.5 51.5,813.5 55.5,813.5 59.5,813.5 63.5,813.5 67.5,813.5 71.5,813.5 75.5,813.5 79.5,813.5 83.5,813.5 87.5,813.5 91.5,812.5 95.5,812.5 99.5,812.5 103.5,812.5 107.5,813.5 111.5,813.5 115.5,813.5 119.5,813.5 123.5,813.5 127.5,813.5 131.5,813.5 135.5,813.5 139.5,813.5 143.5,813.5 147.5,814.5 151.5,813.5 155.5,813.5 159.5,813.5 163.5,813.5 167.5,813.5 171.5,813.5 175.5,813.5 179.5,812.5 183.5,813.5 187.5,813.5 191.5,813.5 195.5,812.9 199.5,812.9 203.5,812.9 207.5,812.9 211.5,812.9 215.5,812.9 219.5,812.9 223.5,813.5 227.5,812.7 231.5,812.7 235.5,812.7 239.5,812.7 243.5,812.7 247.5,812.7 251.5,812.7 255.5,812.7 259.5,812.7 263.5,813.5 267.5,813.5 271.5,813.5 275.5,811.5 279.5,811.5 283.5,811.5 287.5,812.5 291.5,812.5 295.5,812.5 299.5,812.5 303.5,813.5 307.5,813.5 311.5,812.5 315.5,812.5 319.5,813.5 323.5,813.5 327.5,813.5 331.5,813.5 335.5,813.5 339.5,813.5 343.5,812.5 347.5,813.5 351.5,813.5 355.5,812.5 359.5,813.5 363.5,813.5 367.5,812.9 371.5,812.9 375.5,812.9 379.5,812.9 383.5,812.9 387.5,812.9 391.5,813.8 395.5,813.8 399.5,812.9 403.5,812.9 407.5,812.9 411.5,812.9 415.5,812.9 419.5,812.9 423.5,813.5 427.5,813.5 431.5,812.9 435.5,813.8 439.5,813.8 443.5,813.8 447.5,812.9 451.5,811.9 455.5,812.9 459.5,813.8 463.5,813.8 467.5,813.8 471.5,812.9 475.5,813.5 479.5,813.5 483.5,812.9 487.5,812.9 491.5,812.9 495.5,813.8 499.5,812.9 503.5,812.9 507.5,813.8 511.5,813.8 515.5,812.9 519.5,813.8 523.5,814.5 527.5,813.8 531.5,813.8 535.5,813.8 539.5,812.9 543.5,812.9 547.5,812.9 551.5,811.9 555.5,812.9 559.5,813.8 563.5,813.8 567.5,813.8 571.5,813.8 575.5,813.8 579.5,813.8 583.5,813.8 587.5,813.8 591.5,812.9 595.5,812.9 599.5,812.9 603.5,811.9 607.5,811.9 611.5,810.9 615.5,811.5 619.5,812.5 623.5,810.9 627.5,811.9 631.5,813.8 635.5,814.5 639.5,814.5 643.5,815.2 647.5,815.2 651.5,813.3 655.5,813.3 659.5,813.3 663.5,813.3 667.5,813.3 671.5,813.3 675.5,813.3 679.5,814.5 683.5,813.3 687.5,813.3 691.5,811.0 695.5,809.0 699.5,810.8 703.5,810.8 707.5,808.6 711.5,808.6 715.5,813.3 719.5,816.2 723.5,816.2 727.5,814.2 731.5,814.2 735.5,817.0 739.5,816.0 743.5,819.6 747.5,814.5 751.5,810.8 755.5,809.0 759.5,809.0 763.5,812.4 767.5,814.5 771.5,811.6 775.5,812.6 779.5,812.6 783.5,812.6 787.5,811.0 791.5,810.0 795.5,807.3 799.5,811.4 803.5,814.2 807.5,814.2 811.5,813.3 815.5,812.4 819.5,811.6 823.5,812.0 827.5,814.5 831.5,813.3 835.5,811.0 839.5,810.8 843.5,810.8 847.5,810.8 851.5,815.4 855.5,814.5 859.5,812.4 863.5,809.5 867.5,811.0 871.5,814.2 875.5,809.9 879.5,804.8 883.5,812.6 887.5,815.0 891.5,813.7 895.5,819.6 899.5,815.2 903.5,814.5 907.5,816.2 911.5,816.4 915.5,819.2 919.5,817.0 923.5,814.0 927.5,810.8 931.5,808.2 935.5,811.0 939.5,813.3 943.5,815.0 947.5,815.2 951.5,816.4 955.5,815.8 959.5,817.7 963.5,820.9 967.5,822.8 971.5,816.4 975.5,809.5 979.5,810.4 983.5,811.6 987.5,813.3 991.5,814.2 995.5,811.0 999.5,807.3 1003.5,809.0 1007.5,810.4 1011.5,812.0 1015.5,809.5 1019.5,810.8 1023.5,812.6 1027.5,814.2 1031.5,815.8 1035.5,814.2 1039.5,812.0 1043.5,808.2 1047.5,810.8 1051.5,813.3 1055.5,813.3 1059.5,812.4 1063.5,812.6 1067.5,815.4 1071.5,813.7 1075.5,812.4" fill="none" stroke="#9acd32" stroke-width="3" stroke-linejoin="round" stroke-linecap="butt"/>
</g>
<g id="frame">
<rect x="1222" y="0" width="43" height="836" fill="#000"/>
<rect x="0" y="2" width="1222" height="1" fill="#fff"/>
<rect x="1221" y="2" width="1" height="823" fill="#fff"/>
<rect x="0" y="558" width="1222" height="1" fill="#fff"/>
<rect x="0" y="560" width="1222" height="1" fill="#fff"/>
<rect x="0" y="800" width="1222" height="1" fill="#fff"/>
<rect x="0" y="802" width="1222" height="1" fill="#fff"/>
<rect x="0" y="824" width="1222" height="1" fill="#fff"/>
<rect x="1264" y="0" width="1" height="836" fill="#fffff0"/>
<rect x="1221" y="277" width="1" height="1" fill="#8899aa"/>
<rect x="969" y="3" width="9" height="1" fill="#778899"/>
<rect x="970" y="4" width="7" height="1" fill="#778899"/>
<rect x="971" y="5" width="5" height="1" fill="#778899"/>
<rect x="972" y="6" width="3" height="1" fill="#778899"/>
<rect x="973" y="7" width="1" height="1" fill="#778899"/>
<rect x="0" y="9" width="1" height="1" fill="#fff"/>
</g>
<g id="labels">
<rect x="1222" y="27" width="2" height="1" fill="#fff"/>
<rect x="1222" y="60" width="2" height="1" fill="#fff"/>
<rect x="1222" y="93" width="2" height="1" fill="#fff"/>
<rect x="1222" y="126" width="2" height="1" fill="#fff"/>
<rect x="1222" y="159" width="2" height="1" fill="#fff"/>
<rect x="1222" y="192" width="2" height="1" fill="#fff"/>
<rect x="1222" y="225" width="2" height="1" fill="#fff"/>
<rect x="1222" y="258" width="2" height="1" fill="#fff"/>
<rect x="1222" y="291" width="2" height="1" fill="#fff"/>
<rect x="1222" y="324" width="2" height="1" fill="#fff"/>
<rect x="1222" y="357" width="2" height="1" fill="#fff"/>
<rect x="1222" y="390" width="2" height="1" fill="#fff"/>
<rect x="1222" y="423" width="2" height="1" fill="#fff"/>
<rect x="1222" y="456" width="2" height="1" fill="#fff"/>
<rect x="1222" y="489" width="2" height="1" fill="#fff"/>
<rect x="1222" y="522" width="2" height="1" fill="#fff"/>
<rect x="1222" y="555" width="2" height="1" fill="#fff"/>
<rect x="1224" y="271" width="39" height="11" fill="#fff"/>
<rect x="1222" y="562" width="2" height="1" fill="#fff"/>
<rect x="1222" y="724" width="1" height="1" fill="#fff"/>
<rect x="1224" y="718" width="5" height="11" fill="#8b008b"/>
<rect x="1222" y="799" width="2" height="1" fill="#fff"/>
<rect x="1222" y="804" width="2" height="1" fill="#fff"/>
<rect x="1224" y="807" width="5" height="11" fill="#8b008b"/>
<rect x="1222" y="822" width="2" height="1" fill="#fff"/>
<rect x="55" y="825" width="1" height="3" fill="#fff"/>
<rect x="119" y="825" width="1" height="3" fill="#fff"/>
<rect x="183" y="825" width="1" height="3" fill="#fff"/>
<rect x="247" y="825" width="1" height="3" fill="#fff"/>
<rect x="311" y="825" width="1" height="3" fill="#fff"/>
<rect x="375" y="825" width="1" height="3" fill="#fff"/>
<rect x="439" y="825" width="1" height="3" fill="#fff"/>
<rect x="503" y="825" width="1" height="3" fill="#fff"/>
<rect x="567" y="825" width="1" height="3" fill="#fff"/>
<rect x="631" y="825" width="1" height="3" fill="#fff"/>
<rect x="695" y="825" width="1" height="3" fill="#fff"/>
<rect x="759" y="825" width="1" height="3" fill="#fff"/>
<rect x="823" y="825" width="1" height="3" fill="#fff"/>
<rect x="887" y="825" width="1" height="3" fill="#fff"/>
<rect x="951" y="825" width="1" height="3" fill="#fff"/>
<rect x="1015" y="825" width="1" height="3" fill="#fff"/>
</g>
<g id="texts" style="filter:grayscale(1)">
<text x="1226.7" y="30" font-size="10.3" fill="#fff" textLength="32.7" lengthAdjust="spacingAndGlyphs" stroke="#fff" stroke-width="0.15" >2049.00</text>
<text x="1226.7" y="63" font-size="10.3" fill="#fff" textLength="32.7" lengthAdjust="spacingAndGlyphs" stroke="#fff" stroke-width="0.15" >1926.90</text>
<text x="1226.7" y="96" font-size="10.3" fill="#fff" textLength="32.7" lengthAdjust="spacingAndGlyphs" stroke="#fff" stroke-width="0.15" >1804.80</text>
<text x="1226.7" y="129" font-size="10.3" fill="#fff" textLength="32.7" lengthAdjust="spacingAndGlyphs" stroke="#fff" stroke-width="0.15" >1682.70</text>
<text x="1226.7" y="162" font-size="10.3" fill="#fff" textLength="32.7" lengthAdjust="spacingAndGlyphs" stroke="#fff" stroke-width="0.15" >1560.60</text>
<text x="1226.7" y="195" font-size="10.3" fill="#fff" textLength="32.7" lengthAdjust="spacingAndGlyphs" stroke="#fff" stroke-width="0.15" >1434.80</text>
<text x="1226.7" y="228" font-size="10.3" fill="#fff" textLength="32.7" lengthAdjust="spacingAndGlyphs" stroke="#fff" stroke-width="0.15" >1312.70</text>
<text x="1226.7" y="261" font-size="10.3" fill="#fff" textLength="32.7" lengthAdjust="spacingAndGlyphs" stroke="#fff" stroke-width="0.15" >1190.60</text>
<text x="1226.7" y="294" font-size="10.3" fill="#fff" textLength="32.7" lengthAdjust="spacingAndGlyphs" stroke="#fff" stroke-width="0.15" >1068.50</text>
<text x="1226.7" y="327" font-size="10.3" fill="#fff" textLength="27.7" lengthAdjust="spacingAndGlyphs" stroke="#fff" stroke-width="0.15" >946.40</text>
<text x="1226.7" y="360" font-size="10.3" fill="#fff" textLength="27.7" lengthAdjust="spacingAndGlyphs" stroke="#fff" stroke-width="0.15" >824.30</text>
<text x="1226.7" y="393" font-size="10.3" fill="#fff" textLength="27.7" lengthAdjust="spacingAndGlyphs" stroke="#fff" stroke-width="0.15" >698.50</text>
<text x="1226.7" y="426" font-size="10.3" fill="#fff" textLength="27.7" lengthAdjust="spacingAndGlyphs" stroke="#fff" stroke-width="0.15" >576.40</text>
<text x="1226.7" y="459" font-size="10.3" fill="#fff" textLength="27.7" lengthAdjust="spacingAndGlyphs" stroke="#fff" stroke-width="0.15" >454.30</text>
<text x="1226.7" y="492" font-size="10.3" fill="#fff" textLength="27.7" lengthAdjust="spacingAndGlyphs" stroke="#fff" stroke-width="0.15" >332.20</text>
<text x="1226.7" y="525" font-size="10.3" fill="#fff" textLength="27.7" lengthAdjust="spacingAndGlyphs" stroke="#fff" stroke-width="0.15" >210.10</text>
<text x="1226.7" y="558" font-size="10.3" fill="#fff" textLength="22.7" lengthAdjust="spacingAndGlyphs" stroke="#fff" stroke-width="0.15" >88.00</text>
<text x="1226.7" y="280" font-size="10.3" fill="#000" textLength="32.7" lengthAdjust="spacingAndGlyphs" stroke="#000" stroke-width="0.15" >1121.75</text>
<text x="1226" y="572" font-size="10.3" fill="#fff" textLength="32.5" lengthAdjust="spacingAndGlyphs" stroke="#fff" stroke-width="0.15" >188.754</text>
<text x="1225" y="728" font-size="10.3" fill="#fff" textLength="18.3" lengthAdjust="spacingAndGlyphs" stroke="#fff" stroke-width="0.15" >0.00</text>
<text x="1225" y="797" font-size="10.3" fill="#fff" textLength="30.5" lengthAdjust="spacingAndGlyphs" stroke="#fff" stroke-width="0.15" >-87.787</text>
<text x="1226" y="813" font-size="10.3" fill="#fff" textLength="22.5" lengthAdjust="spacingAndGlyphs" stroke="#fff" stroke-width="0.15" >1.631</text>
<text x="1225" y="821" font-size="10.3" fill="#fff" textLength="25.5" lengthAdjust="spacingAndGlyphs" stroke="#fff" stroke-width="0.15" >-0.999</text>
<text x="1225" y="816" font-size="10.3" fill="#fff" textLength="18.3" lengthAdjust="spacingAndGlyphs" stroke="#fff" stroke-width="0.15" >0.00</text>
<text x="6" y="14" font-size="9.9" fill="#fff" textLength="62" lengthAdjust="spacingAndGlyphs" stroke="#fff" stroke-width="0.15" >GOLD,Monthly</text>
<text x="-5.5" y="573" font-size="10" fill="#fff" textLength="66" lengthAdjust="spacingAndGlyphs" stroke="#fff" stroke-width="0.15" >MACD(12,26,9)</text>
<text x="64" y="573" font-size="10.3" fill="#fff" textLength="30.5" lengthAdjust="spacingAndGlyphs" stroke="#fff" stroke-width="0.15" >-67.441</text>
<text x="98.3" y="573" font-size="10.3" fill="#fff" textLength="30.5" lengthAdjust="spacingAndGlyphs" stroke="#fff" stroke-width="0.15" >-65.330</text>
<text x="-9.3" y="838" font-size="10.3" fill="#fff" textLength="45" lengthAdjust="spacingAndGlyphs" stroke="#fff" stroke-width="0.15" >1 Oct 1993</text>
<text x="54.7" y="838" font-size="10.3" fill="#fff" textLength="45" lengthAdjust="spacingAndGlyphs" stroke="#fff" stroke-width="0.15" >1 Feb 1995</text>
<text x="118.7" y="838" font-size="10.3" fill="#fff" textLength="45" lengthAdjust="spacingAndGlyphs" stroke="#fff" stroke-width="0.15" >1 Jun 1996</text>
<text x="182.7" y="838" font-size="10.3" fill="#fff" textLength="45" lengthAdjust="spacingAndGlyphs" stroke="#fff" stroke-width="0.15" >1 Oct 1997</text>
<text x="246.7" y="838" font-size="10.3" fill="#fff" textLength="45" lengthAdjust="spacingAndGlyphs" stroke="#fff" stroke-width="0.15" >1 Feb 1999</text>
<text x="310.7" y="838" font-size="10.3" fill="#fff" textLength="45" lengthAdjust="spacingAndGlyphs" stroke="#fff" stroke-width="0.15" >1 Jun 2000</text>
<text x="374.7" y="838" font-size="10.3" fill="#fff" textLength="45" lengthAdjust="spacingAndGlyphs" stroke="#fff" stroke-width="0.15" >1 Jul 2001</text>
<text x="438.7" y="838" font-size="10.3" fill="#fff" textLength="45" lengthAdjust="spacingAndGlyphs" stroke="#fff" stroke-width="0.15" >1 Nov 2002</text>
<text x="502.7" y="838" font-size="10.3" fill="#fff" textLength="45" lengthAdjust="spacingAndGlyphs" stroke="#fff" stroke-width="0.15" >1 Dec 2003</text>
<text x="566.7" y="838" font-size="10.3" fill="#fff" textLength="45" lengthAdjust="spacingAndGlyphs" stroke="#fff" stroke-width="0.15" >1 Mar 2005</text>
<text x="630.7" y="838" font-size="10.3" fill="#fff" textLength="45" lengthAdjust="spacingAndGlyphs" stroke="#fff" stroke-width="0.15" >1 Jun 2006</text>
<text x="694.7" y="838" font-size="10.3" fill="#fff" textLength="45" lengthAdjust="spacingAndGlyphs" stroke="#fff" stroke-width="0.15" >1 Oct 2007</text>
<text x="758.7" y="838" font-size="10.3" fill="#fff" textLength="45" lengthAdjust="spacingAndGlyphs" stroke="#fff" stroke-width="0.15" >1 Feb 2009</text>
<text x="822.7" y="838" font-size="10.3" fill="#fff" textLength="45" lengthAdjust="spacingAndGlyphs" stroke="#fff" stroke-width="0.15" >1 Jun 2010</text>
<text x="886.7" y="838" font-size="10.3" fill="#fff" textLength="45" lengthAdjust="spacingAndGlyphs" stroke="#fff" stroke-width="0.15" >1 Oct 2011</text>
<text x="950.7" y="838" font-size="10.3" fill="#fff" textLength="45" lengthAdjust="spacingAndGlyphs" stroke="#fff" stroke-width="0.15" >1 Feb 2013</text>
<text x="1014.7" y="838" font-size="10.3" fill="#fff" textLength="45" lengthAdjust="spacingAndGlyphs" stroke="#fff" stroke-width="0.15" >1 Jun 2014</text>
</g>
<g id="ctexts" style="opacity:0.999">
<text x="259.3" y="474" font-size="20" fill="#ffff00" stroke="#ffff00" stroke-width="0.4" >{1}</text>
<text x="289.8" y="482" font-size="20" fill="#00bfff" stroke="#00bfff" stroke-width="0.4" >b</text>
<text x="282.3" y="526.5" font-size="18.5" fill="#00bfff" stroke="#00bfff" stroke-width="0.4" >a</text>
<text x="346.5" y="526.5" font-size="18.5" fill="#00bfff" stroke="#00bfff" stroke-width="0.4" >c</text>
<text x="340" y="547" font-size="19.3" fill="#ffff00" stroke="#ffff00" stroke-width="0.4" >{2}</text>
<text x="205" y="542.4" font-size="20.7" fill="#ff00ff" stroke="#ff00ff" stroke-width="0.4" >Major ii</text>
<text x="373" y="549.7" font-size="18.67" fill="#ffebcd" stroke="#ffebcd" stroke-width="0.4" >[ flat / simple ]</text>
</g>
</svg>
</body></html>
